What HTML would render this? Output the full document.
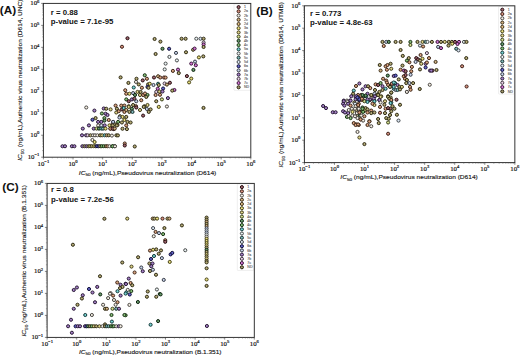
<!DOCTYPE html><html><head><meta charset="utf-8"><style>html,body{margin:0;padding:0;background:#fff;}svg{display:block}.s{font-family:"Liberation Sans",sans-serif}.t{font-family:"Liberation Serif",serif}</style></head><body>
<svg width="520" height="356" viewBox="0 0 520 356">
<rect width="520" height="356" fill="#fff"/>
<g><circle cx="154.60" cy="39.00" r="1.55" fill="#b6ac77" stroke="#2e2a14" stroke-width="1.0"/><circle cx="160.40" cy="41.60" r="1.55" fill="#b6ac77" stroke="#2e2a14" stroke-width="1.0"/><circle cx="181.60" cy="38.75" r="1.55" fill="#b6ac77" stroke="#2e2a14" stroke-width="1.0"/><circle cx="185.60" cy="38.75" r="1.55" fill="#b6ac77" stroke="#2e2a14" stroke-width="1.0"/><circle cx="196.30" cy="38.70" r="1.55" fill="#eef6f6" stroke="#464949" stroke-width="1.0"/><circle cx="200.50" cy="38.70" r="1.55" fill="#dfeaf6" stroke="#3f4449" stroke-width="1.0"/><circle cx="203.60" cy="38.70" r="1.55" fill="#b6ac77" stroke="#2e2a14" stroke-width="1.0"/><circle cx="203.60" cy="42.50" r="1.55" fill="#ead3ea" stroke="#443a44" stroke-width="1.0"/><circle cx="203.60" cy="44.50" r="1.55" fill="#d378d3" stroke="#3a143a" stroke-width="1.0"/><circle cx="203.60" cy="47.00" r="1.55" fill="#b6ac77" stroke="#2e2a14" stroke-width="1.0"/><circle cx="162.50" cy="48.75" r="1.55" fill="#699b6d" stroke="#0e2310" stroke-width="1.0"/><circle cx="169.10" cy="48.75" r="1.55" fill="#6666cc" stroke="#0d0d37" stroke-width="1.0"/><circle cx="155.60" cy="54.00" r="1.55" fill="#b6ac77" stroke="#2e2a14" stroke-width="1.0"/><circle cx="176.00" cy="52.90" r="1.55" fill="#c8d3ea" stroke="#353a44" stroke-width="1.0"/><circle cx="186.00" cy="52.25" r="1.55" fill="#b6ac77" stroke="#2e2a14" stroke-width="1.0"/><circle cx="193.10" cy="49.75" r="1.55" fill="#b6ac77" stroke="#2e2a14" stroke-width="1.0"/><circle cx="194.60" cy="48.60" r="1.55" fill="#d378d3" stroke="#3a143a" stroke-width="1.0"/><circle cx="169.40" cy="56.90" r="1.55" fill="#eef6f6" stroke="#464949" stroke-width="1.0"/><circle cx="176.90" cy="60.40" r="1.55" fill="#eef6f6" stroke="#464949" stroke-width="1.0"/><circle cx="165.60" cy="63.60" r="1.55" fill="#eef6f6" stroke="#464949" stroke-width="1.0"/><circle cx="164.70" cy="69.40" r="1.55" fill="#eef6f6" stroke="#464949" stroke-width="1.0"/><circle cx="198.90" cy="57.40" r="1.55" fill="#ebe080" stroke="#444017" stroke-width="1.0"/><circle cx="203.30" cy="56.40" r="1.55" fill="#b6ac77" stroke="#2e2a14" stroke-width="1.0"/><circle cx="195.00" cy="61.60" r="1.55" fill="#c8d3ea" stroke="#353a44" stroke-width="1.0"/><circle cx="191.25" cy="63.60" r="1.55" fill="#d378d3" stroke="#3a143a" stroke-width="1.0"/><circle cx="195.80" cy="65.25" r="1.55" fill="#d378d3" stroke="#3a143a" stroke-width="1.0"/><circle cx="172.90" cy="70.90" r="1.55" fill="#daa481" stroke="#3d2618" stroke-width="1.0"/><circle cx="178.00" cy="69.60" r="1.55" fill="#d378d3" stroke="#3a143a" stroke-width="1.0"/><circle cx="178.75" cy="73.10" r="1.55" fill="#b6ac77" stroke="#2e2a14" stroke-width="1.0"/><circle cx="193.40" cy="69.90" r="1.55" fill="#699b6d" stroke="#0e2310" stroke-width="1.0"/><circle cx="186.90" cy="76.10" r="1.55" fill="#9f666d" stroke="#250d10" stroke-width="1.0"/><circle cx="191.25" cy="78.60" r="1.55" fill="#ebe080" stroke="#444017" stroke-width="1.0"/><circle cx="189.10" cy="82.40" r="1.55" fill="#ebe080" stroke="#444017" stroke-width="1.0"/><circle cx="203.50" cy="107.90" r="1.55" fill="#b6ac77" stroke="#2e2a14" stroke-width="1.0"/><circle cx="127.50" cy="38.25" r="1.55" fill="#9f666d" stroke="#250d10" stroke-width="1.0"/><circle cx="122.00" cy="46.75" r="1.55" fill="#d79380" stroke="#3c2018" stroke-width="1.0"/><circle cx="120.60" cy="77.40" r="1.55" fill="#b6ac77" stroke="#2e2a14" stroke-width="1.0"/><circle cx="144.75" cy="75.25" r="1.55" fill="#85be78" stroke="#1a3214" stroke-width="1.0"/><circle cx="136.50" cy="78.75" r="1.55" fill="#b6ac77" stroke="#2e2a14" stroke-width="1.0"/><circle cx="142.75" cy="80.40" r="1.55" fill="#9f666d" stroke="#250d10" stroke-width="1.0"/><circle cx="146.90" cy="78.75" r="1.55" fill="#daa481" stroke="#3d2618" stroke-width="1.0"/><circle cx="154.00" cy="77.50" r="1.55" fill="#9f666d" stroke="#250d10" stroke-width="1.0"/><circle cx="158.10" cy="76.25" r="1.55" fill="#d4b382" stroke="#3a2d19" stroke-width="1.0"/><circle cx="160.25" cy="77.50" r="1.55" fill="#daa481" stroke="#3d2618" stroke-width="1.0"/><circle cx="164.00" cy="77.50" r="1.55" fill="#d79380" stroke="#3c2018" stroke-width="1.0"/><circle cx="165.60" cy="77.60" r="1.55" fill="#daa481" stroke="#3d2618" stroke-width="1.0"/><circle cx="128.40" cy="82.90" r="1.55" fill="#b6ac77" stroke="#2e2a14" stroke-width="1.0"/><circle cx="136.00" cy="81.90" r="1.55" fill="#f6f1e6" stroke="#494642" stroke-width="1.0"/><circle cx="138.75" cy="84.40" r="1.55" fill="#b6ac77" stroke="#2e2a14" stroke-width="1.0"/><circle cx="148.10" cy="84.40" r="1.55" fill="#b6ac77" stroke="#2e2a14" stroke-width="1.0"/><circle cx="149.75" cy="83.75" r="1.55" fill="#ebe080" stroke="#444017" stroke-width="1.0"/><circle cx="153.50" cy="85.00" r="1.55" fill="#c8d3ea" stroke="#353a44" stroke-width="1.0"/><circle cx="158.10" cy="83.75" r="1.55" fill="#78d2d2" stroke="#143a3a" stroke-width="1.0"/><circle cx="158.75" cy="85.00" r="1.55" fill="#b6ac77" stroke="#2e2a14" stroke-width="1.0"/><circle cx="164.60" cy="83.50" r="1.55" fill="#ead3ea" stroke="#443a44" stroke-width="1.0"/><circle cx="166.90" cy="84.60" r="1.55" fill="#d4b382" stroke="#3a2d19" stroke-width="1.0"/><circle cx="169.90" cy="82.75" r="1.55" fill="#9f666d" stroke="#250d10" stroke-width="1.0"/><circle cx="133.75" cy="87.50" r="1.55" fill="#78d2d2" stroke="#143a3a" stroke-width="1.0"/><circle cx="141.90" cy="87.75" r="1.55" fill="#daa481" stroke="#3d2618" stroke-width="1.0"/><circle cx="147.50" cy="86.90" r="1.55" fill="#6666cc" stroke="#0d0d37" stroke-width="1.0"/><circle cx="148.50" cy="87.80" r="1.55" fill="#b6ac77" stroke="#2e2a14" stroke-width="1.0"/><circle cx="157.75" cy="88.75" r="1.55" fill="#d378d3" stroke="#3a143a" stroke-width="1.0"/><circle cx="163.10" cy="88.50" r="1.55" fill="#6666cc" stroke="#0d0d37" stroke-width="1.0"/><circle cx="174.40" cy="90.00" r="1.55" fill="#d378d3" stroke="#3a143a" stroke-width="1.0"/><circle cx="172.25" cy="90.60" r="1.55" fill="#b6ac77" stroke="#2e2a14" stroke-width="1.0"/><circle cx="125.25" cy="90.25" r="1.55" fill="#daa481" stroke="#3d2618" stroke-width="1.0"/><circle cx="126.25" cy="93.75" r="1.55" fill="#daa481" stroke="#3d2618" stroke-width="1.0"/><circle cx="129.40" cy="93.75" r="1.55" fill="#ebe080" stroke="#444017" stroke-width="1.0"/><circle cx="133.10" cy="93.10" r="1.55" fill="#c8d3ea" stroke="#353a44" stroke-width="1.0"/><circle cx="135.00" cy="95.00" r="1.55" fill="#699b6d" stroke="#0e2310" stroke-width="1.0"/><circle cx="137.50" cy="91.90" r="1.55" fill="#e1d68a" stroke="#403b1c" stroke-width="1.0"/><circle cx="140.60" cy="91.90" r="1.55" fill="#b6ac77" stroke="#2e2a14" stroke-width="1.0"/><circle cx="140.00" cy="95.00" r="1.55" fill="#e1d68a" stroke="#403b1c" stroke-width="1.0"/><circle cx="143.10" cy="95.00" r="1.55" fill="#daa481" stroke="#3d2618" stroke-width="1.0"/><circle cx="145.00" cy="93.50" r="1.55" fill="#daa481" stroke="#3d2618" stroke-width="1.0"/><circle cx="147.50" cy="95.00" r="1.55" fill="#85be78" stroke="#1a3214" stroke-width="1.0"/><circle cx="146.25" cy="96.90" r="1.55" fill="#b6ac77" stroke="#2e2a14" stroke-width="1.0"/><circle cx="156.25" cy="91.90" r="1.55" fill="#ead3ea" stroke="#443a44" stroke-width="1.0"/><circle cx="159.40" cy="91.60" r="1.55" fill="#e1d68a" stroke="#403b1c" stroke-width="1.0"/><circle cx="162.50" cy="91.50" r="1.55" fill="#a682c8" stroke="#281935" stroke-width="1.0"/><circle cx="155.60" cy="95.00" r="1.55" fill="#daa481" stroke="#3d2618" stroke-width="1.0"/><circle cx="160.00" cy="94.75" r="1.55" fill="#daa481" stroke="#3d2618" stroke-width="1.0"/><circle cx="126.25" cy="99.40" r="1.55" fill="#85be78" stroke="#1a3214" stroke-width="1.0"/><circle cx="128.75" cy="101.25" r="1.55" fill="#9f666d" stroke="#250d10" stroke-width="1.0"/><circle cx="131.90" cy="99.40" r="1.55" fill="#a682c8" stroke="#281935" stroke-width="1.0"/><circle cx="134.40" cy="98.75" r="1.55" fill="#9f666d" stroke="#250d10" stroke-width="1.0"/><circle cx="136.25" cy="101.25" r="1.55" fill="#c8d3ea" stroke="#353a44" stroke-width="1.0"/><circle cx="141.25" cy="100.25" r="1.55" fill="#daa481" stroke="#3d2618" stroke-width="1.0"/><circle cx="156.25" cy="101.25" r="1.55" fill="#b6ac77" stroke="#2e2a14" stroke-width="1.0"/><circle cx="161.90" cy="99.40" r="1.55" fill="#d3de8e" stroke="#3a3f1d" stroke-width="1.0"/><circle cx="167.90" cy="98.10" r="1.55" fill="#a682c8" stroke="#281935" stroke-width="1.0"/><circle cx="115.60" cy="105.60" r="1.55" fill="#daa481" stroke="#3d2618" stroke-width="1.0"/><circle cx="121.25" cy="105.60" r="1.55" fill="#daa481" stroke="#3d2618" stroke-width="1.0"/><circle cx="124.40" cy="105.60" r="1.55" fill="#daa481" stroke="#3d2618" stroke-width="1.0"/><circle cx="128.75" cy="106.25" r="1.55" fill="#b6ac77" stroke="#2e2a14" stroke-width="1.0"/><circle cx="133.10" cy="105.00" r="1.55" fill="#b6ac77" stroke="#2e2a14" stroke-width="1.0"/><circle cx="136.00" cy="106.25" r="1.55" fill="#daa481" stroke="#3d2618" stroke-width="1.0"/><circle cx="144.40" cy="106.25" r="1.55" fill="#b6ac77" stroke="#2e2a14" stroke-width="1.0"/><circle cx="147.50" cy="105.00" r="1.55" fill="#e1d68a" stroke="#403b1c" stroke-width="1.0"/><circle cx="158.75" cy="106.90" r="1.55" fill="#ebe080" stroke="#444017" stroke-width="1.0"/><circle cx="166.90" cy="106.50" r="1.55" fill="#f6f1e6" stroke="#494642" stroke-width="1.0"/><circle cx="110.60" cy="109.40" r="1.55" fill="#e1d68a" stroke="#403b1c" stroke-width="1.0"/><circle cx="116.90" cy="108.75" r="1.55" fill="#b6ac77" stroke="#2e2a14" stroke-width="1.0"/><circle cx="116.25" cy="112.50" r="1.55" fill="#e1d68a" stroke="#403b1c" stroke-width="1.0"/><circle cx="118.75" cy="111.25" r="1.55" fill="#daa481" stroke="#3d2618" stroke-width="1.0"/><circle cx="121.90" cy="109.40" r="1.55" fill="#9f666d" stroke="#250d10" stroke-width="1.0"/><circle cx="123.75" cy="108.10" r="1.55" fill="#78d2d2" stroke="#143a3a" stroke-width="1.0"/><circle cx="124.40" cy="111.90" r="1.55" fill="#daa481" stroke="#3d2618" stroke-width="1.0"/><circle cx="126.25" cy="110.00" r="1.55" fill="#d4b382" stroke="#3a2d19" stroke-width="1.0"/><circle cx="128.75" cy="106.90" r="1.55" fill="#e1d68a" stroke="#403b1c" stroke-width="1.0"/><circle cx="129.40" cy="111.90" r="1.55" fill="#b6ac77" stroke="#2e2a14" stroke-width="1.0"/><circle cx="131.90" cy="108.75" r="1.55" fill="#699b6d" stroke="#0e2310" stroke-width="1.0"/><circle cx="132.50" cy="111.90" r="1.55" fill="#80b9b9" stroke="#182f2f" stroke-width="1.0"/><circle cx="136.25" cy="107.50" r="1.55" fill="#9f666d" stroke="#250d10" stroke-width="1.0"/><circle cx="140.00" cy="110.00" r="1.55" fill="#e1d68a" stroke="#403b1c" stroke-width="1.0"/><circle cx="143.75" cy="106.90" r="1.55" fill="#b6ac77" stroke="#2e2a14" stroke-width="1.0"/><circle cx="146.90" cy="109.00" r="1.55" fill="#c8d3ea" stroke="#353a44" stroke-width="1.0"/><circle cx="150.60" cy="109.40" r="1.55" fill="#b6ac77" stroke="#2e2a14" stroke-width="1.0"/><circle cx="148.75" cy="111.90" r="1.55" fill="#b6ac77" stroke="#2e2a14" stroke-width="1.0"/><circle cx="143.10" cy="115.60" r="1.55" fill="#9f666d" stroke="#250d10" stroke-width="1.0"/><circle cx="120.00" cy="116.25" r="1.55" fill="#b6ac77" stroke="#2e2a14" stroke-width="1.0"/><circle cx="122.50" cy="116.90" r="1.55" fill="#ebe080" stroke="#444017" stroke-width="1.0"/><circle cx="126.25" cy="116.90" r="1.55" fill="#b6ac77" stroke="#2e2a14" stroke-width="1.0"/><circle cx="119.40" cy="117.50" r="1.55" fill="#c8d3ea" stroke="#353a44" stroke-width="1.0"/><circle cx="124.40" cy="120.00" r="1.55" fill="#ebe080" stroke="#444017" stroke-width="1.0"/><circle cx="113.10" cy="121.90" r="1.55" fill="#c8d3ea" stroke="#353a44" stroke-width="1.0"/><circle cx="118.10" cy="121.90" r="1.55" fill="#85be78" stroke="#1a3214" stroke-width="1.0"/><circle cx="121.90" cy="122.50" r="1.55" fill="#b6ac77" stroke="#2e2a14" stroke-width="1.0"/><circle cx="127.50" cy="121.90" r="1.55" fill="#b6ac77" stroke="#2e2a14" stroke-width="1.0"/><circle cx="130.60" cy="122.50" r="1.55" fill="#b6ac77" stroke="#2e2a14" stroke-width="1.0"/><circle cx="111.90" cy="125.00" r="1.55" fill="#daa481" stroke="#3d2618" stroke-width="1.0"/><circle cx="115.00" cy="124.40" r="1.55" fill="#b6ac77" stroke="#2e2a14" stroke-width="1.0"/><circle cx="117.50" cy="125.00" r="1.55" fill="#d4b382" stroke="#3a2d19" stroke-width="1.0"/><circle cx="126.25" cy="125.40" r="1.55" fill="#daa481" stroke="#3d2618" stroke-width="1.0"/><circle cx="110.60" cy="128.75" r="1.55" fill="#daa481" stroke="#3d2618" stroke-width="1.0"/><circle cx="113.75" cy="129.10" r="1.55" fill="#9f666d" stroke="#250d10" stroke-width="1.0"/><circle cx="122.50" cy="128.75" r="1.55" fill="#b6ac77" stroke="#2e2a14" stroke-width="1.0"/><circle cx="126.90" cy="129.10" r="1.55" fill="#b6ac77" stroke="#2e2a14" stroke-width="1.0"/><circle cx="124.75" cy="143.50" r="1.55" fill="#daa481" stroke="#3d2618" stroke-width="1.0"/><circle cx="124.75" cy="145.50" r="1.55" fill="#9f666d" stroke="#250d10" stroke-width="1.0"/><circle cx="134.75" cy="146.50" r="1.55" fill="#b6ac77" stroke="#2e2a14" stroke-width="1.0"/><circle cx="86.25" cy="107.50" r="1.55" fill="#f6f1e6" stroke="#494642" stroke-width="1.0"/><circle cx="94.40" cy="110.60" r="1.55" fill="#a682c8" stroke="#281935" stroke-width="1.0"/><circle cx="103.75" cy="108.50" r="1.55" fill="#a682c8" stroke="#281935" stroke-width="1.0"/><circle cx="106.25" cy="108.75" r="1.55" fill="#b6ac77" stroke="#2e2a14" stroke-width="1.0"/><circle cx="101.90" cy="113.50" r="1.55" fill="#85be78" stroke="#1a3214" stroke-width="1.0"/><circle cx="105.60" cy="113.75" r="1.55" fill="#a682c8" stroke="#281935" stroke-width="1.0"/><circle cx="107.50" cy="115.00" r="1.55" fill="#a682c8" stroke="#281935" stroke-width="1.0"/><circle cx="92.50" cy="119.75" r="1.55" fill="#6666cc" stroke="#0d0d37" stroke-width="1.0"/><circle cx="95.60" cy="118.10" r="1.55" fill="#b6ac77" stroke="#2e2a14" stroke-width="1.0"/><circle cx="104.40" cy="118.10" r="1.55" fill="#85be78" stroke="#1a3214" stroke-width="1.0"/><circle cx="108.75" cy="120.00" r="1.55" fill="#daa481" stroke="#3d2618" stroke-width="1.0"/><circle cx="98.10" cy="121.90" r="1.55" fill="#a682c8" stroke="#281935" stroke-width="1.0"/><circle cx="101.25" cy="121.90" r="1.55" fill="#a682c8" stroke="#281935" stroke-width="1.0"/><circle cx="104.40" cy="120.60" r="1.55" fill="#699b6d" stroke="#0e2310" stroke-width="1.0"/><circle cx="113.10" cy="121.90" r="1.55" fill="#c8d3ea" stroke="#353a44" stroke-width="1.0"/><circle cx="88.90" cy="125.40" r="1.55" fill="#a682c8" stroke="#281935" stroke-width="1.0"/><circle cx="98.20" cy="125.40" r="1.55" fill="#f6f1e6" stroke="#494642" stroke-width="1.0"/><circle cx="101.40" cy="125.40" r="1.55" fill="#dfeaf6" stroke="#3f4449" stroke-width="1.0"/><circle cx="104.70" cy="125.40" r="1.55" fill="#a682c8" stroke="#281935" stroke-width="1.0"/><circle cx="109.50" cy="125.40" r="1.55" fill="#ebe080" stroke="#444017" stroke-width="1.0"/><circle cx="112.70" cy="125.40" r="1.55" fill="#b6ac77" stroke="#2e2a14" stroke-width="1.0"/><circle cx="116.80" cy="125.40" r="1.55" fill="#b6ac77" stroke="#2e2a14" stroke-width="1.0"/><circle cx="82.80" cy="128.60" r="1.55" fill="#a682c8" stroke="#281935" stroke-width="1.0"/><circle cx="93.75" cy="128.60" r="1.55" fill="#a682c8" stroke="#281935" stroke-width="1.0"/><circle cx="96.60" cy="128.60" r="1.55" fill="#d3de8e" stroke="#3a3f1d" stroke-width="1.0"/><circle cx="99.00" cy="128.60" r="1.55" fill="#699b6d" stroke="#0e2310" stroke-width="1.0"/><circle cx="101.40" cy="128.60" r="1.55" fill="#78d2d2" stroke="#143a3a" stroke-width="1.0"/><circle cx="103.00" cy="128.60" r="1.55" fill="#80b9b9" stroke="#182f2f" stroke-width="1.0"/><circle cx="105.50" cy="128.60" r="1.55" fill="#ebe080" stroke="#444017" stroke-width="1.0"/><circle cx="110.30" cy="128.60" r="1.55" fill="#daa481" stroke="#3d2618" stroke-width="1.0"/><circle cx="112.70" cy="128.60" r="1.55" fill="#9f666d" stroke="#250d10" stroke-width="1.0"/><circle cx="114.75" cy="128.60" r="1.55" fill="#d4b382" stroke="#3a2d19" stroke-width="1.0"/><circle cx="82.00" cy="135.30" r="1.55" fill="#a682c8" stroke="#281935" stroke-width="1.0"/><circle cx="86.10" cy="135.30" r="1.55" fill="#a682c8" stroke="#281935" stroke-width="1.0"/><circle cx="87.70" cy="135.30" r="1.55" fill="#ead3ea" stroke="#443a44" stroke-width="1.0"/><circle cx="90.50" cy="135.30" r="1.55" fill="#b6ac77" stroke="#2e2a14" stroke-width="1.0"/><circle cx="93.00" cy="135.30" r="1.55" fill="#f6f1e6" stroke="#494642" stroke-width="1.0"/><circle cx="95.00" cy="135.30" r="1.55" fill="#f6f1e6" stroke="#494642" stroke-width="1.0"/><circle cx="97.40" cy="135.30" r="1.55" fill="#f6f1e6" stroke="#494642" stroke-width="1.0"/><circle cx="100.20" cy="135.30" r="1.55" fill="#b6ac77" stroke="#2e2a14" stroke-width="1.0"/><circle cx="102.20" cy="135.30" r="1.55" fill="#e1d68a" stroke="#403b1c" stroke-width="1.0"/><circle cx="104.70" cy="135.30" r="1.55" fill="#78d2d2" stroke="#143a3a" stroke-width="1.0"/><circle cx="106.70" cy="135.30" r="1.55" fill="#d4b382" stroke="#3a2d19" stroke-width="1.0"/><circle cx="108.70" cy="135.30" r="1.55" fill="#b6ac77" stroke="#2e2a14" stroke-width="1.0"/><circle cx="111.90" cy="135.60" r="1.55" fill="#f6f1e6" stroke="#494642" stroke-width="1.0"/><circle cx="116.40" cy="135.30" r="1.55" fill="#b6ac77" stroke="#2e2a14" stroke-width="1.0"/><circle cx="117.90" cy="135.40" r="1.55" fill="#b6ac77" stroke="#2e2a14" stroke-width="1.0"/><circle cx="92.40" cy="140.00" r="1.55" fill="#f6f1e6" stroke="#494642" stroke-width="1.0"/><circle cx="94.60" cy="142.00" r="1.55" fill="#ebe080" stroke="#444017" stroke-width="1.0"/><circle cx="62.50" cy="146.25" r="1.55" fill="#a682c8" stroke="#281935" stroke-width="1.0"/><circle cx="65.00" cy="146.25" r="1.55" fill="#a682c8" stroke="#281935" stroke-width="1.0"/><circle cx="71.90" cy="146.25" r="1.55" fill="#a682c8" stroke="#281935" stroke-width="1.0"/><circle cx="74.40" cy="146.25" r="1.55" fill="#a682c8" stroke="#281935" stroke-width="1.0"/><circle cx="82.40" cy="146.20" r="1.55" fill="#a682c8" stroke="#281935" stroke-width="1.0"/><circle cx="84.50" cy="146.20" r="1.55" fill="#b6ac77" stroke="#2e2a14" stroke-width="1.0"/><circle cx="86.50" cy="146.20" r="1.55" fill="#a682c8" stroke="#281935" stroke-width="1.0"/><circle cx="88.50" cy="146.20" r="1.55" fill="#b6ac77" stroke="#2e2a14" stroke-width="1.0"/><circle cx="90.10" cy="146.20" r="1.55" fill="#ebe080" stroke="#444017" stroke-width="1.0"/><circle cx="91.70" cy="146.20" r="1.55" fill="#b6ac77" stroke="#2e2a14" stroke-width="1.0"/><circle cx="93.75" cy="146.20" r="1.55" fill="#ebe080" stroke="#444017" stroke-width="1.0"/><circle cx="95.40" cy="146.20" r="1.55" fill="#b6ac77" stroke="#2e2a14" stroke-width="1.0"/><circle cx="97.00" cy="146.20" r="1.55" fill="#6666cc" stroke="#0d0d37" stroke-width="1.0"/><circle cx="98.60" cy="146.20" r="1.55" fill="#6666cc" stroke="#0d0d37" stroke-width="1.0"/><circle cx="100.20" cy="146.20" r="1.55" fill="#b6ac77" stroke="#2e2a14" stroke-width="1.0"/><circle cx="101.80" cy="146.20" r="1.55" fill="#85be78" stroke="#1a3214" stroke-width="1.0"/><circle cx="103.80" cy="146.20" r="1.55" fill="#85be78" stroke="#1a3214" stroke-width="1.0"/><circle cx="105.90" cy="146.20" r="1.55" fill="#b6ac77" stroke="#2e2a14" stroke-width="1.0"/><circle cx="107.50" cy="146.20" r="1.55" fill="#daa481" stroke="#3d2618" stroke-width="1.0"/><circle cx="109.50" cy="146.20" r="1.55" fill="#f6f1e6" stroke="#494642" stroke-width="1.0"/><circle cx="112.70" cy="146.20" r="1.55" fill="#699b6d" stroke="#0e2310" stroke-width="1.0"/><circle cx="114.75" cy="146.20" r="1.55" fill="#699b6d" stroke="#0e2310" stroke-width="1.0"/><circle cx="112.50" cy="146.25" r="1.55" fill="#85be78" stroke="#1a3214" stroke-width="1.0"/><circle cx="115.00" cy="146.25" r="1.55" fill="#f6f1e6" stroke="#494642" stroke-width="1.0"/><rect x="234.0" y="3.9" width="16.30000000000001" height="86.39999999999999" fill="#fff" fill-opacity="0.8" stroke="#ddd" stroke-width="0.5" rx="0.5"/><circle cx="238.6" cy="7.10" r="1.55" fill="#9f666d" stroke="#250d10" stroke-width="1.0"/><text class="s" x="244.00" y="8.20" font-size="3.6" fill="#555" stroke="#555" stroke-width="0.1">1</text><circle cx="238.6" cy="11.32" r="1.55" fill="#d79380" stroke="#3c2018" stroke-width="1.0"/><text class="s" x="244.00" y="12.42" font-size="3.6" fill="#555" stroke="#555" stroke-width="0.1">2a</text><circle cx="238.6" cy="15.54" r="1.55" fill="#f6f1e6" stroke="#494642" stroke-width="1.0"/><text class="s" x="244.00" y="16.64" font-size="3.6" fill="#555" stroke="#555" stroke-width="0.1">2b</text><circle cx="238.6" cy="19.76" r="1.55" fill="#d4b382" stroke="#3a2d19" stroke-width="1.0"/><text class="s" x="244.00" y="20.86" font-size="3.6" fill="#555" stroke="#555" stroke-width="0.1">2c</text><circle cx="238.6" cy="23.98" r="1.55" fill="#dfbc82" stroke="#3f3119" stroke-width="1.0"/><text class="s" x="244.00" y="25.08" font-size="3.6" fill="#555" stroke="#555" stroke-width="0.1">2d</text><circle cx="238.6" cy="28.20" r="1.55" fill="#ebe080" stroke="#444017" stroke-width="1.0"/><text class="s" x="244.00" y="29.30" font-size="3.6" fill="#555" stroke="#555" stroke-width="0.1">3a</text><circle cx="238.6" cy="32.42" r="1.55" fill="#e1d68a" stroke="#403b1c" stroke-width="1.0"/><text class="s" x="244.00" y="33.52" font-size="3.6" fill="#555" stroke="#555" stroke-width="0.1">3b</text><circle cx="238.6" cy="36.64" r="1.55" fill="#d3de8e" stroke="#3a3f1d" stroke-width="1.0"/><text class="s" x="244.00" y="37.74" font-size="3.6" fill="#555" stroke="#555" stroke-width="0.1">4a</text><circle cx="238.6" cy="40.86" r="1.55" fill="#699b6d" stroke="#0e2310" stroke-width="1.0"/><text class="s" x="244.00" y="41.96" font-size="3.6" fill="#555" stroke="#555" stroke-width="0.1">4b</text><circle cx="238.6" cy="45.08" r="1.55" fill="#85be78" stroke="#1a3214" stroke-width="1.0"/><text class="s" x="244.00" y="46.18" font-size="3.6" fill="#555" stroke="#555" stroke-width="0.1">4c</text><circle cx="238.6" cy="49.30" r="1.55" fill="#78d2d2" stroke="#143a3a" stroke-width="1.0"/><text class="s" x="244.00" y="50.40" font-size="3.6" fill="#555" stroke="#555" stroke-width="0.1">5a</text><circle cx="238.6" cy="53.52" r="1.55" fill="#eef6f6" stroke="#464949" stroke-width="1.0"/><text class="s" x="244.00" y="54.62" font-size="3.6" fill="#555" stroke="#555" stroke-width="0.1">5b</text><circle cx="238.6" cy="57.74" r="1.55" fill="#80b9b9" stroke="#182f2f" stroke-width="1.0"/><text class="s" x="244.00" y="58.84" font-size="3.6" fill="#555" stroke="#555" stroke-width="0.1">5c</text><circle cx="238.6" cy="61.96" r="1.55" fill="#dfeaf6" stroke="#3f4449" stroke-width="1.0"/><text class="s" x="244.00" y="63.06" font-size="3.6" fill="#555" stroke="#555" stroke-width="0.1">5d</text><circle cx="238.6" cy="66.18" r="1.55" fill="#6666cc" stroke="#0d0d37" stroke-width="1.0"/><text class="s" x="244.00" y="67.28" font-size="3.6" fill="#555" stroke="#555" stroke-width="0.1">6a</text><circle cx="238.6" cy="70.40" r="1.55" fill="#c8d3ea" stroke="#353a44" stroke-width="1.0"/><text class="s" x="244.00" y="71.50" font-size="3.6" fill="#555" stroke="#555" stroke-width="0.1">6b</text><circle cx="238.6" cy="74.62" r="1.55" fill="#a682c8" stroke="#281935" stroke-width="1.0"/><text class="s" x="244.00" y="75.72" font-size="3.6" fill="#555" stroke="#555" stroke-width="0.1">7a</text><circle cx="238.6" cy="78.84" r="1.55" fill="#ead3ea" stroke="#443a44" stroke-width="1.0"/><text class="s" x="244.00" y="79.94" font-size="3.6" fill="#555" stroke="#555" stroke-width="0.1">7b</text><circle cx="238.6" cy="83.06" r="1.55" fill="#d378d3" stroke="#3a143a" stroke-width="1.0"/><text class="s" x="244.00" y="84.16" font-size="3.6" fill="#555" stroke="#555" stroke-width="0.1">7c</text><circle cx="238.6" cy="87.28" r="1.55" fill="#a3996c" stroke="#26220f" stroke-width="1.0"/><text class="s" x="244.00" y="88.38" font-size="3.6" fill="#555" stroke="#555" stroke-width="0.1">ND</text><rect x="43.4" y="3.4" width="207.4" height="153.79999999999998" fill="none" stroke="#2a2a2a" stroke-width="0.95"/><line x1="43.40" y1="157.2" x2="43.40" y2="159.39999999999998" stroke="#333" stroke-width="0.6"/><line x1="41.199999999999996" y1="157.20" x2="43.4" y2="157.20" stroke="#333" stroke-width="0.6"/><line x1="52.32" y1="157.2" x2="52.32" y2="158.39999999999998" stroke="#555" stroke-width="0.45"/><line x1="42.199999999999996" y1="150.59" x2="43.4" y2="150.59" stroke="#555" stroke-width="0.45"/><line x1="57.54" y1="157.2" x2="57.54" y2="158.39999999999998" stroke="#555" stroke-width="0.45"/><line x1="42.199999999999996" y1="146.72" x2="43.4" y2="146.72" stroke="#555" stroke-width="0.45"/><line x1="61.24" y1="157.2" x2="61.24" y2="158.39999999999998" stroke="#555" stroke-width="0.45"/><line x1="42.199999999999996" y1="143.97" x2="43.4" y2="143.97" stroke="#555" stroke-width="0.45"/><line x1="64.11" y1="157.2" x2="64.11" y2="158.39999999999998" stroke="#555" stroke-width="0.45"/><line x1="42.199999999999996" y1="141.84" x2="43.4" y2="141.84" stroke="#555" stroke-width="0.45"/><line x1="66.46" y1="157.2" x2="66.46" y2="158.39999999999998" stroke="#555" stroke-width="0.45"/><line x1="42.199999999999996" y1="140.10" x2="43.4" y2="140.10" stroke="#555" stroke-width="0.45"/><line x1="68.44" y1="157.2" x2="68.44" y2="158.39999999999998" stroke="#555" stroke-width="0.45"/><line x1="42.199999999999996" y1="138.63" x2="43.4" y2="138.63" stroke="#555" stroke-width="0.45"/><line x1="70.16" y1="157.2" x2="70.16" y2="158.39999999999998" stroke="#555" stroke-width="0.45"/><line x1="42.199999999999996" y1="137.36" x2="43.4" y2="137.36" stroke="#555" stroke-width="0.45"/><line x1="71.67" y1="157.2" x2="71.67" y2="158.39999999999998" stroke="#555" stroke-width="0.45"/><line x1="42.199999999999996" y1="136.23" x2="43.4" y2="136.23" stroke="#555" stroke-width="0.45"/><text class="t" x="43.40" y="165.50" font-size="6.8" fill="#111" stroke="#111" stroke-width="0.18" text-anchor="middle">10<tspan font-size="4.6" dy="-2.8">−1</tspan></text><text class="t" x="39.40" y="159.20" font-size="6.8" fill="#111" stroke="#111" stroke-width="0.18" text-anchor="end">10<tspan font-size="4.6" dy="-2.8">−1</tspan></text><line x1="73.03" y1="157.2" x2="73.03" y2="159.39999999999998" stroke="#333" stroke-width="0.6"/><line x1="41.199999999999996" y1="135.23" x2="43.4" y2="135.23" stroke="#333" stroke-width="0.6"/><line x1="81.95" y1="157.2" x2="81.95" y2="158.39999999999998" stroke="#555" stroke-width="0.45"/><line x1="42.199999999999996" y1="128.61" x2="43.4" y2="128.61" stroke="#555" stroke-width="0.45"/><line x1="87.16" y1="157.2" x2="87.16" y2="158.39999999999998" stroke="#555" stroke-width="0.45"/><line x1="42.199999999999996" y1="124.75" x2="43.4" y2="124.75" stroke="#555" stroke-width="0.45"/><line x1="90.87" y1="157.2" x2="90.87" y2="158.39999999999998" stroke="#555" stroke-width="0.45"/><line x1="42.199999999999996" y1="122.00" x2="43.4" y2="122.00" stroke="#555" stroke-width="0.45"/><line x1="93.74" y1="157.2" x2="93.74" y2="158.39999999999998" stroke="#555" stroke-width="0.45"/><line x1="42.199999999999996" y1="119.87" x2="43.4" y2="119.87" stroke="#555" stroke-width="0.45"/><line x1="96.08" y1="157.2" x2="96.08" y2="158.39999999999998" stroke="#555" stroke-width="0.45"/><line x1="42.199999999999996" y1="118.13" x2="43.4" y2="118.13" stroke="#555" stroke-width="0.45"/><line x1="98.07" y1="157.2" x2="98.07" y2="158.39999999999998" stroke="#555" stroke-width="0.45"/><line x1="42.199999999999996" y1="116.66" x2="43.4" y2="116.66" stroke="#555" stroke-width="0.45"/><line x1="99.79" y1="157.2" x2="99.79" y2="158.39999999999998" stroke="#555" stroke-width="0.45"/><line x1="42.199999999999996" y1="115.39" x2="43.4" y2="115.39" stroke="#555" stroke-width="0.45"/><line x1="101.30" y1="157.2" x2="101.30" y2="158.39999999999998" stroke="#555" stroke-width="0.45"/><line x1="42.199999999999996" y1="114.26" x2="43.4" y2="114.26" stroke="#555" stroke-width="0.45"/><text class="t" x="73.03" y="165.50" font-size="6.8" fill="#111" stroke="#111" stroke-width="0.18" text-anchor="middle">10<tspan font-size="4.6" dy="-2.8">0</tspan></text><text class="t" x="39.40" y="137.23" font-size="6.8" fill="#111" stroke="#111" stroke-width="0.18" text-anchor="end">10<tspan font-size="4.6" dy="-2.8">0</tspan></text><line x1="102.66" y1="157.2" x2="102.66" y2="159.39999999999998" stroke="#333" stroke-width="0.6"/><line x1="41.199999999999996" y1="113.26" x2="43.4" y2="113.26" stroke="#333" stroke-width="0.6"/><line x1="111.58" y1="157.2" x2="111.58" y2="158.39999999999998" stroke="#555" stroke-width="0.45"/><line x1="42.199999999999996" y1="106.64" x2="43.4" y2="106.64" stroke="#555" stroke-width="0.45"/><line x1="116.79" y1="157.2" x2="116.79" y2="158.39999999999998" stroke="#555" stroke-width="0.45"/><line x1="42.199999999999996" y1="102.77" x2="43.4" y2="102.77" stroke="#555" stroke-width="0.45"/><line x1="120.50" y1="157.2" x2="120.50" y2="158.39999999999998" stroke="#555" stroke-width="0.45"/><line x1="42.199999999999996" y1="100.03" x2="43.4" y2="100.03" stroke="#555" stroke-width="0.45"/><line x1="123.37" y1="157.2" x2="123.37" y2="158.39999999999998" stroke="#555" stroke-width="0.45"/><line x1="42.199999999999996" y1="97.90" x2="43.4" y2="97.90" stroke="#555" stroke-width="0.45"/><line x1="125.71" y1="157.2" x2="125.71" y2="158.39999999999998" stroke="#555" stroke-width="0.45"/><line x1="42.199999999999996" y1="96.16" x2="43.4" y2="96.16" stroke="#555" stroke-width="0.45"/><line x1="127.70" y1="157.2" x2="127.70" y2="158.39999999999998" stroke="#555" stroke-width="0.45"/><line x1="42.199999999999996" y1="94.69" x2="43.4" y2="94.69" stroke="#555" stroke-width="0.45"/><line x1="129.41" y1="157.2" x2="129.41" y2="158.39999999999998" stroke="#555" stroke-width="0.45"/><line x1="42.199999999999996" y1="93.41" x2="43.4" y2="93.41" stroke="#555" stroke-width="0.45"/><line x1="130.93" y1="157.2" x2="130.93" y2="158.39999999999998" stroke="#555" stroke-width="0.45"/><line x1="42.199999999999996" y1="92.29" x2="43.4" y2="92.29" stroke="#555" stroke-width="0.45"/><text class="t" x="102.66" y="165.50" font-size="6.8" fill="#111" stroke="#111" stroke-width="0.18" text-anchor="middle">10<tspan font-size="4.6" dy="-2.8">1</tspan></text><text class="t" x="39.40" y="115.26" font-size="6.8" fill="#111" stroke="#111" stroke-width="0.18" text-anchor="end">10<tspan font-size="4.6" dy="-2.8">1</tspan></text><line x1="132.29" y1="157.2" x2="132.29" y2="159.39999999999998" stroke="#333" stroke-width="0.6"/><line x1="41.199999999999996" y1="91.29" x2="43.4" y2="91.29" stroke="#333" stroke-width="0.6"/><line x1="141.20" y1="157.2" x2="141.20" y2="158.39999999999998" stroke="#555" stroke-width="0.45"/><line x1="42.199999999999996" y1="84.67" x2="43.4" y2="84.67" stroke="#555" stroke-width="0.45"/><line x1="146.42" y1="157.2" x2="146.42" y2="158.39999999999998" stroke="#555" stroke-width="0.45"/><line x1="42.199999999999996" y1="80.80" x2="43.4" y2="80.80" stroke="#555" stroke-width="0.45"/><line x1="150.12" y1="157.2" x2="150.12" y2="158.39999999999998" stroke="#555" stroke-width="0.45"/><line x1="42.199999999999996" y1="78.06" x2="43.4" y2="78.06" stroke="#555" stroke-width="0.45"/><line x1="153.00" y1="157.2" x2="153.00" y2="158.39999999999998" stroke="#555" stroke-width="0.45"/><line x1="42.199999999999996" y1="75.93" x2="43.4" y2="75.93" stroke="#555" stroke-width="0.45"/><line x1="155.34" y1="157.2" x2="155.34" y2="158.39999999999998" stroke="#555" stroke-width="0.45"/><line x1="42.199999999999996" y1="74.19" x2="43.4" y2="74.19" stroke="#555" stroke-width="0.45"/><line x1="157.32" y1="157.2" x2="157.32" y2="158.39999999999998" stroke="#555" stroke-width="0.45"/><line x1="42.199999999999996" y1="72.72" x2="43.4" y2="72.72" stroke="#555" stroke-width="0.45"/><line x1="159.04" y1="157.2" x2="159.04" y2="158.39999999999998" stroke="#555" stroke-width="0.45"/><line x1="42.199999999999996" y1="71.44" x2="43.4" y2="71.44" stroke="#555" stroke-width="0.45"/><line x1="160.56" y1="157.2" x2="160.56" y2="158.39999999999998" stroke="#555" stroke-width="0.45"/><line x1="42.199999999999996" y1="70.32" x2="43.4" y2="70.32" stroke="#555" stroke-width="0.45"/><text class="t" x="132.29" y="165.50" font-size="6.8" fill="#111" stroke="#111" stroke-width="0.18" text-anchor="middle">10<tspan font-size="4.6" dy="-2.8">2</tspan></text><text class="t" x="39.40" y="93.29" font-size="6.8" fill="#111" stroke="#111" stroke-width="0.18" text-anchor="end">10<tspan font-size="4.6" dy="-2.8">2</tspan></text><line x1="161.91" y1="157.2" x2="161.91" y2="159.39999999999998" stroke="#333" stroke-width="0.6"/><line x1="41.199999999999996" y1="69.31" x2="43.4" y2="69.31" stroke="#333" stroke-width="0.6"/><line x1="170.83" y1="157.2" x2="170.83" y2="158.39999999999998" stroke="#555" stroke-width="0.45"/><line x1="42.199999999999996" y1="62.70" x2="43.4" y2="62.70" stroke="#555" stroke-width="0.45"/><line x1="176.05" y1="157.2" x2="176.05" y2="158.39999999999998" stroke="#555" stroke-width="0.45"/><line x1="42.199999999999996" y1="58.83" x2="43.4" y2="58.83" stroke="#555" stroke-width="0.45"/><line x1="179.75" y1="157.2" x2="179.75" y2="158.39999999999998" stroke="#555" stroke-width="0.45"/><line x1="42.199999999999996" y1="56.09" x2="43.4" y2="56.09" stroke="#555" stroke-width="0.45"/><line x1="182.62" y1="157.2" x2="182.62" y2="158.39999999999998" stroke="#555" stroke-width="0.45"/><line x1="42.199999999999996" y1="53.96" x2="43.4" y2="53.96" stroke="#555" stroke-width="0.45"/><line x1="184.97" y1="157.2" x2="184.97" y2="158.39999999999998" stroke="#555" stroke-width="0.45"/><line x1="42.199999999999996" y1="52.22" x2="43.4" y2="52.22" stroke="#555" stroke-width="0.45"/><line x1="186.95" y1="157.2" x2="186.95" y2="158.39999999999998" stroke="#555" stroke-width="0.45"/><line x1="42.199999999999996" y1="50.75" x2="43.4" y2="50.75" stroke="#555" stroke-width="0.45"/><line x1="188.67" y1="157.2" x2="188.67" y2="158.39999999999998" stroke="#555" stroke-width="0.45"/><line x1="42.199999999999996" y1="49.47" x2="43.4" y2="49.47" stroke="#555" stroke-width="0.45"/><line x1="190.19" y1="157.2" x2="190.19" y2="158.39999999999998" stroke="#555" stroke-width="0.45"/><line x1="42.199999999999996" y1="48.35" x2="43.4" y2="48.35" stroke="#555" stroke-width="0.45"/><text class="t" x="161.91" y="165.50" font-size="6.8" fill="#111" stroke="#111" stroke-width="0.18" text-anchor="middle">10<tspan font-size="4.6" dy="-2.8">3</tspan></text><text class="t" x="39.40" y="71.31" font-size="6.8" fill="#111" stroke="#111" stroke-width="0.18" text-anchor="end">10<tspan font-size="4.6" dy="-2.8">3</tspan></text><line x1="191.54" y1="157.2" x2="191.54" y2="159.39999999999998" stroke="#333" stroke-width="0.6"/><line x1="41.199999999999996" y1="47.34" x2="43.4" y2="47.34" stroke="#333" stroke-width="0.6"/><line x1="200.46" y1="157.2" x2="200.46" y2="158.39999999999998" stroke="#555" stroke-width="0.45"/><line x1="42.199999999999996" y1="40.73" x2="43.4" y2="40.73" stroke="#555" stroke-width="0.45"/><line x1="205.68" y1="157.2" x2="205.68" y2="158.39999999999998" stroke="#555" stroke-width="0.45"/><line x1="42.199999999999996" y1="36.86" x2="43.4" y2="36.86" stroke="#555" stroke-width="0.45"/><line x1="209.38" y1="157.2" x2="209.38" y2="158.39999999999998" stroke="#555" stroke-width="0.45"/><line x1="42.199999999999996" y1="34.11" x2="43.4" y2="34.11" stroke="#555" stroke-width="0.45"/><line x1="212.25" y1="157.2" x2="212.25" y2="158.39999999999998" stroke="#555" stroke-width="0.45"/><line x1="42.199999999999996" y1="31.99" x2="43.4" y2="31.99" stroke="#555" stroke-width="0.45"/><line x1="214.60" y1="157.2" x2="214.60" y2="158.39999999999998" stroke="#555" stroke-width="0.45"/><line x1="42.199999999999996" y1="30.25" x2="43.4" y2="30.25" stroke="#555" stroke-width="0.45"/><line x1="216.58" y1="157.2" x2="216.58" y2="158.39999999999998" stroke="#555" stroke-width="0.45"/><line x1="42.199999999999996" y1="28.77" x2="43.4" y2="28.77" stroke="#555" stroke-width="0.45"/><line x1="218.30" y1="157.2" x2="218.30" y2="158.39999999999998" stroke="#555" stroke-width="0.45"/><line x1="42.199999999999996" y1="27.50" x2="43.4" y2="27.50" stroke="#555" stroke-width="0.45"/><line x1="219.82" y1="157.2" x2="219.82" y2="158.39999999999998" stroke="#555" stroke-width="0.45"/><line x1="42.199999999999996" y1="26.38" x2="43.4" y2="26.38" stroke="#555" stroke-width="0.45"/><text class="t" x="191.54" y="165.50" font-size="6.8" fill="#111" stroke="#111" stroke-width="0.18" text-anchor="middle">10<tspan font-size="4.6" dy="-2.8">4</tspan></text><text class="t" x="39.40" y="49.34" font-size="6.8" fill="#111" stroke="#111" stroke-width="0.18" text-anchor="end">10<tspan font-size="4.6" dy="-2.8">4</tspan></text><line x1="221.17" y1="157.2" x2="221.17" y2="159.39999999999998" stroke="#333" stroke-width="0.6"/><line x1="41.199999999999996" y1="25.37" x2="43.4" y2="25.37" stroke="#333" stroke-width="0.6"/><line x1="230.09" y1="157.2" x2="230.09" y2="158.39999999999998" stroke="#555" stroke-width="0.45"/><line x1="42.199999999999996" y1="18.76" x2="43.4" y2="18.76" stroke="#555" stroke-width="0.45"/><line x1="235.31" y1="157.2" x2="235.31" y2="158.39999999999998" stroke="#555" stroke-width="0.45"/><line x1="42.199999999999996" y1="14.89" x2="43.4" y2="14.89" stroke="#555" stroke-width="0.45"/><line x1="239.01" y1="157.2" x2="239.01" y2="158.39999999999998" stroke="#555" stroke-width="0.45"/><line x1="42.199999999999996" y1="12.14" x2="43.4" y2="12.14" stroke="#555" stroke-width="0.45"/><line x1="241.88" y1="157.2" x2="241.88" y2="158.39999999999998" stroke="#555" stroke-width="0.45"/><line x1="42.199999999999996" y1="10.01" x2="43.4" y2="10.01" stroke="#555" stroke-width="0.45"/><line x1="244.23" y1="157.2" x2="244.23" y2="158.39999999999998" stroke="#555" stroke-width="0.45"/><line x1="42.199999999999996" y1="8.27" x2="43.4" y2="8.27" stroke="#555" stroke-width="0.45"/><line x1="246.21" y1="157.2" x2="246.21" y2="158.39999999999998" stroke="#555" stroke-width="0.45"/><line x1="42.199999999999996" y1="6.80" x2="43.4" y2="6.80" stroke="#555" stroke-width="0.45"/><line x1="247.93" y1="157.2" x2="247.93" y2="158.39999999999998" stroke="#555" stroke-width="0.45"/><line x1="42.199999999999996" y1="5.53" x2="43.4" y2="5.53" stroke="#555" stroke-width="0.45"/><line x1="249.44" y1="157.2" x2="249.44" y2="158.39999999999998" stroke="#555" stroke-width="0.45"/><line x1="42.199999999999996" y1="4.41" x2="43.4" y2="4.41" stroke="#555" stroke-width="0.45"/><text class="t" x="221.17" y="165.50" font-size="6.8" fill="#111" stroke="#111" stroke-width="0.18" text-anchor="middle">10<tspan font-size="4.6" dy="-2.8">5</tspan></text><text class="t" x="39.40" y="27.37" font-size="6.8" fill="#111" stroke="#111" stroke-width="0.18" text-anchor="end">10<tspan font-size="4.6" dy="-2.8">5</tspan></text><line x1="250.80" y1="157.2" x2="250.80" y2="159.39999999999998" stroke="#333" stroke-width="0.6"/><line x1="41.199999999999996" y1="3.40" x2="43.4" y2="3.40" stroke="#333" stroke-width="0.6"/><text class="t" x="250.80" y="165.50" font-size="6.8" fill="#111" stroke="#111" stroke-width="0.18" text-anchor="middle">10<tspan font-size="4.6" dy="-2.8">6</tspan></text><text class="t" x="39.40" y="5.40" font-size="6.8" fill="#111" stroke="#111" stroke-width="0.18" text-anchor="end">10<tspan font-size="4.6" dy="-2.8">6</tspan></text><text class="s" x="-0.3" y="13.7" font-size="11.8" font-weight="bold" fill="#111">(A)</text><text class="s" x="50.8" y="14.8" font-size="7.8" font-weight="bold" fill="#111">r = 0.88</text><text class="s" x="50.8" y="23.6" font-size="7.8" font-weight="bold" fill="#111">p-value = 7.1e-95</text><text class="s" x="78.8" y="174.5" font-size="6.0" fill="#1a1a1a" stroke="#1a1a1a" stroke-width="0.14" textLength="137.5" lengthAdjust="spacingAndGlyphs"><tspan font-style="italic">IC</tspan><tspan font-size="4.20" dy="1.6">50</tspan><tspan dy="-1.6"> (ng/mL),Pseudovirus neutralization (D614)</tspan></text><text class="s" transform="translate(22.4,160.8) rotate(-90)" x="0" y="0" font-size="6.0" fill="#1a1a1a" stroke="#1a1a1a" stroke-width="0.14" textLength="161.3" lengthAdjust="spacingAndGlyphs"><tspan font-style="italic">IC</tspan><tspan font-size="4.20" dy="1.6">50</tspan><tspan dy="-1.6"> (ng/mL),Authentic virus neutralization (D614, UNC)</tspan></text></g>
<g><circle cx="382.50" cy="41.90" r="1.55" fill="#b6ac77" stroke="#2e2a14" stroke-width="1.0"/><circle cx="386.25" cy="41.90" r="1.55" fill="#c8d3ea" stroke="#353a44" stroke-width="1.0"/><circle cx="388.75" cy="41.90" r="1.55" fill="#699b6d" stroke="#0e2310" stroke-width="1.0"/><circle cx="395.60" cy="41.90" r="1.55" fill="#b6ac77" stroke="#2e2a14" stroke-width="1.0"/><circle cx="400.60" cy="41.90" r="1.55" fill="#b6ac77" stroke="#2e2a14" stroke-width="1.0"/><circle cx="410.40" cy="41.90" r="1.55" fill="#85be78" stroke="#1a3214" stroke-width="1.0"/><circle cx="417.50" cy="41.90" r="1.55" fill="#b6ac77" stroke="#2e2a14" stroke-width="1.0"/><circle cx="422.50" cy="41.90" r="1.55" fill="#e1d68a" stroke="#403b1c" stroke-width="1.0"/><circle cx="425.60" cy="41.90" r="1.55" fill="#80b9b9" stroke="#182f2f" stroke-width="1.0"/><circle cx="427.50" cy="41.90" r="1.55" fill="#eef6f6" stroke="#464949" stroke-width="1.0"/><circle cx="431.90" cy="41.90" r="1.55" fill="#b6ac77" stroke="#2e2a14" stroke-width="1.0"/><circle cx="437.50" cy="41.90" r="1.55" fill="#d378d3" stroke="#3a143a" stroke-width="1.0"/><circle cx="441.00" cy="41.90" r="1.55" fill="#b6ac77" stroke="#2e2a14" stroke-width="1.0"/><circle cx="444.75" cy="41.90" r="1.55" fill="#e1d68a" stroke="#403b1c" stroke-width="1.0"/><circle cx="448.75" cy="41.90" r="1.55" fill="#b6ac77" stroke="#2e2a14" stroke-width="1.0"/><circle cx="451.90" cy="41.90" r="1.55" fill="#b6ac77" stroke="#2e2a14" stroke-width="1.0"/><circle cx="455.00" cy="41.90" r="1.55" fill="#9f666d" stroke="#250d10" stroke-width="1.0"/><circle cx="459.00" cy="41.90" r="1.55" fill="#d378d3" stroke="#3a143a" stroke-width="1.0"/><circle cx="464.00" cy="41.90" r="1.55" fill="#eef6f6" stroke="#464949" stroke-width="1.0"/><circle cx="466.50" cy="41.90" r="1.55" fill="#b6ac77" stroke="#2e2a14" stroke-width="1.0"/><circle cx="383.75" cy="46.00" r="1.55" fill="#daa481" stroke="#3d2618" stroke-width="1.0"/><circle cx="410.40" cy="45.00" r="1.55" fill="#d3de8e" stroke="#3a3f1d" stroke-width="1.0"/><circle cx="420.00" cy="45.60" r="1.55" fill="#dfeaf6" stroke="#3f4449" stroke-width="1.0"/><circle cx="423.10" cy="46.50" r="1.55" fill="#daa481" stroke="#3d2618" stroke-width="1.0"/><circle cx="438.10" cy="46.90" r="1.55" fill="#c8d3ea" stroke="#353a44" stroke-width="1.0"/><circle cx="441.00" cy="48.10" r="1.55" fill="#d378d3" stroke="#3a143a" stroke-width="1.0"/><circle cx="448.50" cy="45.60" r="1.55" fill="#b6ac77" stroke="#2e2a14" stroke-width="1.0"/><circle cx="452.25" cy="43.75" r="1.55" fill="#ebe080" stroke="#444017" stroke-width="1.0"/><circle cx="457.50" cy="44.00" r="1.55" fill="#d378d3" stroke="#3a143a" stroke-width="1.0"/><circle cx="456.25" cy="48.75" r="1.55" fill="#80b9b9" stroke="#182f2f" stroke-width="1.0"/><circle cx="458.50" cy="50.40" r="1.55" fill="#dfeaf6" stroke="#3f4449" stroke-width="1.0"/><circle cx="400.60" cy="50.00" r="1.55" fill="#b6ac77" stroke="#2e2a14" stroke-width="1.0"/><circle cx="402.75" cy="55.90" r="1.55" fill="#b6ac77" stroke="#2e2a14" stroke-width="1.0"/><circle cx="426.90" cy="53.10" r="1.55" fill="#ead3ea" stroke="#443a44" stroke-width="1.0"/><circle cx="408.75" cy="58.10" r="1.55" fill="#b6ac77" stroke="#2e2a14" stroke-width="1.0"/><circle cx="406.90" cy="60.60" r="1.55" fill="#85be78" stroke="#1a3214" stroke-width="1.0"/><circle cx="409.40" cy="62.25" r="1.55" fill="#daa481" stroke="#3d2618" stroke-width="1.0"/><circle cx="416.25" cy="58.10" r="1.55" fill="#9f666d" stroke="#250d10" stroke-width="1.0"/><circle cx="418.10" cy="59.40" r="1.55" fill="#9f666d" stroke="#250d10" stroke-width="1.0"/><circle cx="420.60" cy="55.00" r="1.55" fill="#daa481" stroke="#3d2618" stroke-width="1.0"/><circle cx="422.50" cy="58.75" r="1.55" fill="#ebe080" stroke="#444017" stroke-width="1.0"/><circle cx="420.00" cy="60.60" r="1.55" fill="#b6ac77" stroke="#2e2a14" stroke-width="1.0"/><circle cx="415.60" cy="61.90" r="1.55" fill="#c8d3ea" stroke="#353a44" stroke-width="1.0"/><circle cx="421.25" cy="63.75" r="1.55" fill="#e1d68a" stroke="#403b1c" stroke-width="1.0"/><circle cx="425.60" cy="63.75" r="1.55" fill="#a682c8" stroke="#281935" stroke-width="1.0"/><circle cx="426.90" cy="62.50" r="1.55" fill="#daa481" stroke="#3d2618" stroke-width="1.0"/><circle cx="425.60" cy="67.50" r="1.55" fill="#6666cc" stroke="#0d0d37" stroke-width="1.0"/><circle cx="429.00" cy="58.10" r="1.55" fill="#daa481" stroke="#3d2618" stroke-width="1.0"/><circle cx="435.60" cy="61.90" r="1.55" fill="#d4b382" stroke="#3a2d19" stroke-width="1.0"/><circle cx="466.25" cy="58.10" r="1.55" fill="#b6ac77" stroke="#2e2a14" stroke-width="1.0"/><circle cx="462.10" cy="66.25" r="1.55" fill="#d79380" stroke="#3c2018" stroke-width="1.0"/><circle cx="466.60" cy="86.50" r="1.55" fill="#d79380" stroke="#3c2018" stroke-width="1.0"/><circle cx="379.75" cy="65.00" r="1.55" fill="#b6ac77" stroke="#2e2a14" stroke-width="1.0"/><circle cx="385.60" cy="66.25" r="1.55" fill="#daa481" stroke="#3d2618" stroke-width="1.0"/><circle cx="387.50" cy="65.00" r="1.55" fill="#daa481" stroke="#3d2618" stroke-width="1.0"/><circle cx="390.60" cy="63.75" r="1.55" fill="#b6ac77" stroke="#2e2a14" stroke-width="1.0"/><circle cx="391.25" cy="68.75" r="1.55" fill="#e1d68a" stroke="#403b1c" stroke-width="1.0"/><circle cx="386.90" cy="69.75" r="1.55" fill="#daa481" stroke="#3d2618" stroke-width="1.0"/><circle cx="380.60" cy="70.60" r="1.55" fill="#d4b382" stroke="#3a2d19" stroke-width="1.0"/><circle cx="402.50" cy="65.60" r="1.55" fill="#b6ac77" stroke="#2e2a14" stroke-width="1.0"/><circle cx="411.90" cy="66.90" r="1.55" fill="#daa481" stroke="#3d2618" stroke-width="1.0"/><circle cx="400.60" cy="69.75" r="1.55" fill="#daa481" stroke="#3d2618" stroke-width="1.0"/><circle cx="404.00" cy="70.60" r="1.55" fill="#d378d3" stroke="#3a143a" stroke-width="1.0"/><circle cx="405.60" cy="71.25" r="1.55" fill="#9f666d" stroke="#250d10" stroke-width="1.0"/><circle cx="411.25" cy="71.25" r="1.55" fill="#daa481" stroke="#3d2618" stroke-width="1.0"/><circle cx="420.00" cy="69.40" r="1.55" fill="#b6ac77" stroke="#2e2a14" stroke-width="1.0"/><circle cx="430.00" cy="70.60" r="1.55" fill="#a682c8" stroke="#281935" stroke-width="1.0"/><circle cx="432.50" cy="70.60" r="1.55" fill="#9f666d" stroke="#250d10" stroke-width="1.0"/><circle cx="436.50" cy="70.00" r="1.55" fill="#b6ac77" stroke="#2e2a14" stroke-width="1.0"/><circle cx="431.25" cy="70.60" r="1.55" fill="#a682c8" stroke="#281935" stroke-width="1.0"/><circle cx="387.75" cy="75.60" r="1.55" fill="#699b6d" stroke="#0e2310" stroke-width="1.0"/><circle cx="393.75" cy="76.00" r="1.55" fill="#a682c8" stroke="#281935" stroke-width="1.0"/><circle cx="395.60" cy="75.60" r="1.55" fill="#6666cc" stroke="#0d0d37" stroke-width="1.0"/><circle cx="383.10" cy="78.75" r="1.55" fill="#daa481" stroke="#3d2618" stroke-width="1.0"/><circle cx="386.25" cy="80.60" r="1.55" fill="#daa481" stroke="#3d2618" stroke-width="1.0"/><circle cx="386.90" cy="82.50" r="1.55" fill="#daa481" stroke="#3d2618" stroke-width="1.0"/><circle cx="410.60" cy="74.75" r="1.55" fill="#c8d3ea" stroke="#353a44" stroke-width="1.0"/><circle cx="403.75" cy="76.25" r="1.55" fill="#daa481" stroke="#3d2618" stroke-width="1.0"/><circle cx="405.60" cy="75.00" r="1.55" fill="#9f666d" stroke="#250d10" stroke-width="1.0"/><circle cx="405.00" cy="78.75" r="1.55" fill="#daa481" stroke="#3d2618" stroke-width="1.0"/><circle cx="398.75" cy="79.40" r="1.55" fill="#b6ac77" stroke="#2e2a14" stroke-width="1.0"/><circle cx="406.90" cy="80.00" r="1.55" fill="#b6ac77" stroke="#2e2a14" stroke-width="1.0"/><circle cx="406.25" cy="83.10" r="1.55" fill="#b6ac77" stroke="#2e2a14" stroke-width="1.0"/><circle cx="409.40" cy="83.10" r="1.55" fill="#c8d3ea" stroke="#353a44" stroke-width="1.0"/><circle cx="413.10" cy="83.10" r="1.55" fill="#b6ac77" stroke="#2e2a14" stroke-width="1.0"/><circle cx="410.00" cy="86.90" r="1.55" fill="#daa481" stroke="#3d2618" stroke-width="1.0"/><circle cx="410.60" cy="89.75" r="1.55" fill="#daa481" stroke="#3d2618" stroke-width="1.0"/><circle cx="406.90" cy="91.90" r="1.55" fill="#f6f1e6" stroke="#494642" stroke-width="1.0"/><circle cx="419.75" cy="89.00" r="1.55" fill="#b6ac77" stroke="#2e2a14" stroke-width="1.0"/><circle cx="429.75" cy="84.75" r="1.55" fill="#f6f1e6" stroke="#494642" stroke-width="1.0"/><circle cx="391.90" cy="83.75" r="1.55" fill="#9f666d" stroke="#250d10" stroke-width="1.0"/><circle cx="395.00" cy="83.10" r="1.55" fill="#78d2d2" stroke="#143a3a" stroke-width="1.0"/><circle cx="397.50" cy="85.00" r="1.55" fill="#a682c8" stroke="#281935" stroke-width="1.0"/><circle cx="399.40" cy="86.90" r="1.55" fill="#b6ac77" stroke="#2e2a14" stroke-width="1.0"/><circle cx="401.90" cy="86.90" r="1.55" fill="#e1d68a" stroke="#403b1c" stroke-width="1.0"/><circle cx="393.75" cy="88.75" r="1.55" fill="#78d2d2" stroke="#143a3a" stroke-width="1.0"/><circle cx="395.60" cy="90.00" r="1.55" fill="#c8d3ea" stroke="#353a44" stroke-width="1.0"/><circle cx="397.50" cy="90.00" r="1.55" fill="#80b9b9" stroke="#182f2f" stroke-width="1.0"/><circle cx="400.00" cy="89.40" r="1.55" fill="#b6ac77" stroke="#2e2a14" stroke-width="1.0"/><circle cx="396.50" cy="99.75" r="1.55" fill="#9f666d" stroke="#250d10" stroke-width="1.0"/><circle cx="391.25" cy="100.00" r="1.55" fill="#daa481" stroke="#3d2618" stroke-width="1.0"/><circle cx="359.40" cy="83.50" r="1.55" fill="#a682c8" stroke="#281935" stroke-width="1.0"/><circle cx="356.00" cy="86.00" r="1.55" fill="#daa481" stroke="#3d2618" stroke-width="1.0"/><circle cx="365.60" cy="86.25" r="1.55" fill="#a682c8" stroke="#281935" stroke-width="1.0"/><circle cx="368.10" cy="86.25" r="1.55" fill="#b6ac77" stroke="#2e2a14" stroke-width="1.0"/><circle cx="370.25" cy="88.10" r="1.55" fill="#daa481" stroke="#3d2618" stroke-width="1.0"/><circle cx="362.50" cy="89.40" r="1.55" fill="#a682c8" stroke="#281935" stroke-width="1.0"/><circle cx="375.60" cy="84.40" r="1.55" fill="#daa481" stroke="#3d2618" stroke-width="1.0"/><circle cx="378.10" cy="85.00" r="1.55" fill="#9f666d" stroke="#250d10" stroke-width="1.0"/><circle cx="380.60" cy="83.10" r="1.55" fill="#85be78" stroke="#1a3214" stroke-width="1.0"/><circle cx="382.50" cy="86.25" r="1.55" fill="#a682c8" stroke="#281935" stroke-width="1.0"/><circle cx="385.60" cy="88.75" r="1.55" fill="#78d2d2" stroke="#143a3a" stroke-width="1.0"/><circle cx="388.10" cy="85.00" r="1.55" fill="#daa481" stroke="#3d2618" stroke-width="1.0"/><circle cx="390.00" cy="86.90" r="1.55" fill="#b6ac77" stroke="#2e2a14" stroke-width="1.0"/><circle cx="391.90" cy="83.75" r="1.55" fill="#d79380" stroke="#3c2018" stroke-width="1.0"/><circle cx="393.75" cy="82.50" r="1.55" fill="#78d2d2" stroke="#143a3a" stroke-width="1.0"/><circle cx="393.75" cy="86.90" r="1.55" fill="#78d2d2" stroke="#143a3a" stroke-width="1.0"/><circle cx="353.75" cy="90.60" r="1.55" fill="#78d2d2" stroke="#143a3a" stroke-width="1.0"/><circle cx="375.00" cy="90.00" r="1.55" fill="#b6ac77" stroke="#2e2a14" stroke-width="1.0"/><circle cx="379.40" cy="91.90" r="1.55" fill="#b6ac77" stroke="#2e2a14" stroke-width="1.0"/><circle cx="382.50" cy="90.00" r="1.55" fill="#b6ac77" stroke="#2e2a14" stroke-width="1.0"/><circle cx="391.25" cy="92.75" r="1.55" fill="#b6ac77" stroke="#2e2a14" stroke-width="1.0"/><circle cx="353.10" cy="93.75" r="1.55" fill="#b6ac77" stroke="#2e2a14" stroke-width="1.0"/><circle cx="351.25" cy="96.25" r="1.55" fill="#a682c8" stroke="#281935" stroke-width="1.0"/><circle cx="355.60" cy="96.90" r="1.55" fill="#a682c8" stroke="#281935" stroke-width="1.0"/><circle cx="358.10" cy="95.00" r="1.55" fill="#daa481" stroke="#3d2618" stroke-width="1.0"/><circle cx="361.25" cy="95.00" r="1.55" fill="#d4b382" stroke="#3a2d19" stroke-width="1.0"/><circle cx="363.75" cy="96.25" r="1.55" fill="#699b6d" stroke="#0e2310" stroke-width="1.0"/><circle cx="366.25" cy="96.25" r="1.55" fill="#78d2d2" stroke="#143a3a" stroke-width="1.0"/><circle cx="367.50" cy="93.75" r="1.55" fill="#a682c8" stroke="#281935" stroke-width="1.0"/><circle cx="371.25" cy="95.60" r="1.55" fill="#daa481" stroke="#3d2618" stroke-width="1.0"/><circle cx="374.40" cy="93.75" r="1.55" fill="#c8d3ea" stroke="#353a44" stroke-width="1.0"/><circle cx="375.00" cy="96.25" r="1.55" fill="#a682c8" stroke="#281935" stroke-width="1.0"/><circle cx="377.50" cy="94.40" r="1.55" fill="#b6ac77" stroke="#2e2a14" stroke-width="1.0"/><circle cx="381.25" cy="96.25" r="1.55" fill="#e1d68a" stroke="#403b1c" stroke-width="1.0"/><circle cx="388.10" cy="96.25" r="1.55" fill="#b6ac77" stroke="#2e2a14" stroke-width="1.0"/><circle cx="390.60" cy="97.50" r="1.55" fill="#b6ac77" stroke="#2e2a14" stroke-width="1.0"/><circle cx="343.75" cy="100.60" r="1.55" fill="#a682c8" stroke="#281935" stroke-width="1.0"/><circle cx="346.90" cy="100.60" r="1.55" fill="#f6f1e6" stroke="#494642" stroke-width="1.0"/><circle cx="350.00" cy="100.60" r="1.55" fill="#a682c8" stroke="#281935" stroke-width="1.0"/><circle cx="355.60" cy="99.40" r="1.55" fill="#a682c8" stroke="#281935" stroke-width="1.0"/><circle cx="358.75" cy="100.00" r="1.55" fill="#6666cc" stroke="#0d0d37" stroke-width="1.0"/><circle cx="363.10" cy="100.00" r="1.55" fill="#daa481" stroke="#3d2618" stroke-width="1.0"/><circle cx="367.50" cy="100.00" r="1.55" fill="#a682c8" stroke="#281935" stroke-width="1.0"/><circle cx="370.00" cy="100.00" r="1.55" fill="#b6ac77" stroke="#2e2a14" stroke-width="1.0"/><circle cx="374.40" cy="100.60" r="1.55" fill="#78d2d2" stroke="#143a3a" stroke-width="1.0"/><circle cx="379.40" cy="100.00" r="1.55" fill="#a682c8" stroke="#281935" stroke-width="1.0"/><circle cx="385.00" cy="101.25" r="1.55" fill="#e1d68a" stroke="#403b1c" stroke-width="1.0"/><circle cx="391.25" cy="102.50" r="1.55" fill="#78d2d2" stroke="#143a3a" stroke-width="1.0"/><circle cx="354.40" cy="102.50" r="1.55" fill="#b6ac77" stroke="#2e2a14" stroke-width="1.0"/><circle cx="356.25" cy="96.25" r="1.55" fill="#a682c8" stroke="#281935" stroke-width="1.0"/><circle cx="358.75" cy="97.50" r="1.55" fill="#6666cc" stroke="#0d0d37" stroke-width="1.0"/><circle cx="365.60" cy="95.60" r="1.55" fill="#699b6d" stroke="#0e2310" stroke-width="1.0"/><circle cx="371.25" cy="95.00" r="1.55" fill="#b6ac77" stroke="#2e2a14" stroke-width="1.0"/><circle cx="378.10" cy="95.00" r="1.55" fill="#b6ac77" stroke="#2e2a14" stroke-width="1.0"/><circle cx="380.60" cy="96.90" r="1.55" fill="#e1d68a" stroke="#403b1c" stroke-width="1.0"/><circle cx="370.00" cy="99.40" r="1.55" fill="#a682c8" stroke="#281935" stroke-width="1.0"/><circle cx="373.75" cy="98.75" r="1.55" fill="#a682c8" stroke="#281935" stroke-width="1.0"/><circle cx="374.40" cy="101.25" r="1.55" fill="#78d2d2" stroke="#143a3a" stroke-width="1.0"/><circle cx="379.40" cy="100.00" r="1.55" fill="#a682c8" stroke="#281935" stroke-width="1.0"/><circle cx="380.60" cy="102.50" r="1.55" fill="#f6f1e6" stroke="#494642" stroke-width="1.0"/><circle cx="367.50" cy="99.40" r="1.55" fill="#a682c8" stroke="#281935" stroke-width="1.0"/><circle cx="364.40" cy="101.25" r="1.55" fill="#d3de8e" stroke="#3a3f1d" stroke-width="1.0"/><circle cx="361.25" cy="100.00" r="1.55" fill="#daa481" stroke="#3d2618" stroke-width="1.0"/><circle cx="358.75" cy="99.40" r="1.55" fill="#80b9b9" stroke="#182f2f" stroke-width="1.0"/><circle cx="367.50" cy="101.90" r="1.55" fill="#78d2d2" stroke="#143a3a" stroke-width="1.0"/><circle cx="388.10" cy="96.90" r="1.55" fill="#b6ac77" stroke="#2e2a14" stroke-width="1.0"/><circle cx="389.40" cy="98.75" r="1.55" fill="#b6ac77" stroke="#2e2a14" stroke-width="1.0"/><circle cx="391.25" cy="100.00" r="1.55" fill="#daa481" stroke="#3d2618" stroke-width="1.0"/><circle cx="391.25" cy="92.50" r="1.55" fill="#b6ac77" stroke="#2e2a14" stroke-width="1.0"/><circle cx="390.60" cy="103.10" r="1.55" fill="#78d2d2" stroke="#143a3a" stroke-width="1.0"/><circle cx="400.00" cy="104.75" r="1.55" fill="#b6ac77" stroke="#2e2a14" stroke-width="1.0"/><circle cx="406.90" cy="91.90" r="1.55" fill="#f6f1e6" stroke="#494642" stroke-width="1.0"/><circle cx="384.40" cy="104.75" r="1.55" fill="#b6ac77" stroke="#2e2a14" stroke-width="1.0"/><circle cx="380.00" cy="106.90" r="1.55" fill="#daa481" stroke="#3d2618" stroke-width="1.0"/><circle cx="385.60" cy="108.75" r="1.55" fill="#daa481" stroke="#3d2618" stroke-width="1.0"/><circle cx="388.10" cy="108.10" r="1.55" fill="#9f666d" stroke="#250d10" stroke-width="1.0"/><circle cx="390.60" cy="108.75" r="1.55" fill="#9f666d" stroke="#250d10" stroke-width="1.0"/><circle cx="392.50" cy="106.25" r="1.55" fill="#b6ac77" stroke="#2e2a14" stroke-width="1.0"/><circle cx="394.40" cy="108.75" r="1.55" fill="#b6ac77" stroke="#2e2a14" stroke-width="1.0"/><circle cx="391.25" cy="111.25" r="1.55" fill="#b6ac77" stroke="#2e2a14" stroke-width="1.0"/><circle cx="374.40" cy="105.00" r="1.55" fill="#e1d68a" stroke="#403b1c" stroke-width="1.0"/><circle cx="372.50" cy="103.75" r="1.55" fill="#daa481" stroke="#3d2618" stroke-width="1.0"/><circle cx="358.75" cy="103.75" r="1.55" fill="#daa481" stroke="#3d2618" stroke-width="1.0"/><circle cx="356.25" cy="105.00" r="1.55" fill="#f6f1e6" stroke="#494642" stroke-width="1.0"/><circle cx="358.10" cy="106.25" r="1.55" fill="#daa481" stroke="#3d2618" stroke-width="1.0"/><circle cx="362.50" cy="107.50" r="1.55" fill="#699b6d" stroke="#0e2310" stroke-width="1.0"/><circle cx="365.60" cy="108.10" r="1.55" fill="#b6ac77" stroke="#2e2a14" stroke-width="1.0"/><circle cx="367.50" cy="109.40" r="1.55" fill="#b6ac77" stroke="#2e2a14" stroke-width="1.0"/><circle cx="371.25" cy="110.60" r="1.55" fill="#daa481" stroke="#3d2618" stroke-width="1.0"/><circle cx="364.40" cy="110.60" r="1.55" fill="#e1d68a" stroke="#403b1c" stroke-width="1.0"/><circle cx="356.25" cy="110.00" r="1.55" fill="#b6ac77" stroke="#2e2a14" stroke-width="1.0"/><circle cx="360.00" cy="111.90" r="1.55" fill="#daa481" stroke="#3d2618" stroke-width="1.0"/><circle cx="362.50" cy="111.25" r="1.55" fill="#b6ac77" stroke="#2e2a14" stroke-width="1.0"/><circle cx="367.50" cy="112.50" r="1.55" fill="#daa481" stroke="#3d2618" stroke-width="1.0"/><circle cx="371.25" cy="113.10" r="1.55" fill="#b6ac77" stroke="#2e2a14" stroke-width="1.0"/><circle cx="374.40" cy="112.50" r="1.55" fill="#b6ac77" stroke="#2e2a14" stroke-width="1.0"/><circle cx="357.50" cy="115.00" r="1.55" fill="#b6ac77" stroke="#2e2a14" stroke-width="1.0"/><circle cx="360.00" cy="115.60" r="1.55" fill="#699b6d" stroke="#0e2310" stroke-width="1.0"/><circle cx="364.40" cy="116.25" r="1.55" fill="#daa481" stroke="#3d2618" stroke-width="1.0"/><circle cx="380.00" cy="112.75" r="1.55" fill="#d79380" stroke="#3c2018" stroke-width="1.0"/><circle cx="385.00" cy="113.10" r="1.55" fill="#b6ac77" stroke="#2e2a14" stroke-width="1.0"/><circle cx="390.00" cy="115.00" r="1.55" fill="#b6ac77" stroke="#2e2a14" stroke-width="1.0"/><circle cx="396.90" cy="114.75" r="1.55" fill="#b6ac77" stroke="#2e2a14" stroke-width="1.0"/><circle cx="357.50" cy="118.10" r="1.55" fill="#f6f1e6" stroke="#494642" stroke-width="1.0"/><circle cx="360.60" cy="119.40" r="1.55" fill="#daa481" stroke="#3d2618" stroke-width="1.0"/><circle cx="363.10" cy="120.60" r="1.55" fill="#f6f1e6" stroke="#494642" stroke-width="1.0"/><circle cx="378.10" cy="119.00" r="1.55" fill="#b6ac77" stroke="#2e2a14" stroke-width="1.0"/><circle cx="378.75" cy="123.10" r="1.55" fill="#b6ac77" stroke="#2e2a14" stroke-width="1.0"/><circle cx="386.25" cy="118.10" r="1.55" fill="#b6ac77" stroke="#2e2a14" stroke-width="1.0"/><circle cx="388.75" cy="118.75" r="1.55" fill="#b6ac77" stroke="#2e2a14" stroke-width="1.0"/><circle cx="388.10" cy="122.50" r="1.55" fill="#d3de8e" stroke="#3a3f1d" stroke-width="1.0"/><circle cx="398.50" cy="120.60" r="1.55" fill="#dfeaf6" stroke="#3f4449" stroke-width="1.0"/><circle cx="369.40" cy="121.25" r="1.55" fill="#b6ac77" stroke="#2e2a14" stroke-width="1.0"/><circle cx="367.50" cy="125.00" r="1.55" fill="#daa481" stroke="#3d2618" stroke-width="1.0"/><circle cx="371.25" cy="126.25" r="1.55" fill="#f6f1e6" stroke="#494642" stroke-width="1.0"/><circle cx="356.25" cy="124.40" r="1.55" fill="#daa481" stroke="#3d2618" stroke-width="1.0"/><circle cx="358.75" cy="125.00" r="1.55" fill="#daa481" stroke="#3d2618" stroke-width="1.0"/><circle cx="357.50" cy="131.90" r="1.55" fill="#f6f1e6" stroke="#494642" stroke-width="1.0"/><circle cx="388.10" cy="133.75" r="1.55" fill="#d79380" stroke="#3c2018" stroke-width="1.0"/><circle cx="369.40" cy="121.50" r="1.55" fill="#daa481" stroke="#3d2618" stroke-width="1.0"/><circle cx="359.40" cy="137.50" r="1.55" fill="#e1d68a" stroke="#403b1c" stroke-width="1.0"/><circle cx="364.40" cy="144.10" r="1.55" fill="#b6ac77" stroke="#2e2a14" stroke-width="1.0"/><circle cx="323.10" cy="106.00" r="1.55" fill="#a682c8" stroke="#281935" stroke-width="1.0"/><circle cx="326.00" cy="108.10" r="1.55" fill="#a682c8" stroke="#281935" stroke-width="1.0"/><circle cx="332.75" cy="112.25" r="1.55" fill="#a682c8" stroke="#281935" stroke-width="1.0"/><circle cx="335.60" cy="112.25" r="1.55" fill="#a682c8" stroke="#281935" stroke-width="1.0"/><circle cx="343.75" cy="101.25" r="1.55" fill="#a682c8" stroke="#281935" stroke-width="1.0"/><circle cx="343.10" cy="103.75" r="1.55" fill="#a682c8" stroke="#281935" stroke-width="1.0"/><circle cx="344.40" cy="105.60" r="1.55" fill="#a682c8" stroke="#281935" stroke-width="1.0"/><circle cx="347.50" cy="101.90" r="1.55" fill="#f6f1e6" stroke="#494642" stroke-width="1.0"/><circle cx="348.10" cy="103.75" r="1.55" fill="#a682c8" stroke="#281935" stroke-width="1.0"/><circle cx="350.60" cy="100.60" r="1.55" fill="#a682c8" stroke="#281935" stroke-width="1.0"/><circle cx="343.10" cy="111.25" r="1.55" fill="#a682c8" stroke="#281935" stroke-width="1.0"/><circle cx="345.00" cy="112.50" r="1.55" fill="#a682c8" stroke="#281935" stroke-width="1.0"/><circle cx="348.10" cy="113.10" r="1.55" fill="#a682c8" stroke="#281935" stroke-width="1.0"/><circle cx="348.75" cy="110.00" r="1.55" fill="#f6f1e6" stroke="#494642" stroke-width="1.0"/><circle cx="350.60" cy="105.60" r="1.55" fill="#daa481" stroke="#3d2618" stroke-width="1.0"/><circle cx="351.90" cy="108.75" r="1.55" fill="#f6f1e6" stroke="#494642" stroke-width="1.0"/><circle cx="355.00" cy="103.75" r="1.55" fill="#dfeaf6" stroke="#3f4449" stroke-width="1.0"/><circle cx="355.60" cy="106.25" r="1.55" fill="#f6f1e6" stroke="#494642" stroke-width="1.0"/><circle cx="358.10" cy="105.00" r="1.55" fill="#daa481" stroke="#3d2618" stroke-width="1.0"/><circle cx="355.00" cy="108.75" r="1.55" fill="#f6f1e6" stroke="#494642" stroke-width="1.0"/><circle cx="358.75" cy="108.75" r="1.55" fill="#f6f1e6" stroke="#494642" stroke-width="1.0"/><circle cx="360.60" cy="95.60" r="1.55" fill="#daa481" stroke="#3d2618" stroke-width="1.0"/><circle cx="362.50" cy="95.00" r="1.55" fill="#699b6d" stroke="#0e2310" stroke-width="1.0"/><circle cx="357.50" cy="97.50" r="1.55" fill="#6666cc" stroke="#0d0d37" stroke-width="1.0"/><circle cx="359.40" cy="99.40" r="1.55" fill="#6666cc" stroke="#0d0d37" stroke-width="1.0"/><circle cx="361.90" cy="98.75" r="1.55" fill="#daa481" stroke="#3d2618" stroke-width="1.0"/><circle cx="352.50" cy="111.90" r="1.55" fill="#ebe080" stroke="#444017" stroke-width="1.0"/><circle cx="356.90" cy="113.10" r="1.55" fill="#f6f1e6" stroke="#494642" stroke-width="1.0"/><circle cx="359.40" cy="112.50" r="1.55" fill="#daa481" stroke="#3d2618" stroke-width="1.0"/><circle cx="362.50" cy="108.75" r="1.55" fill="#85be78" stroke="#1a3214" stroke-width="1.0"/><circle cx="363.10" cy="111.90" r="1.55" fill="#85be78" stroke="#1a3214" stroke-width="1.0"/><circle cx="346.90" cy="116.90" r="1.55" fill="#85be78" stroke="#1a3214" stroke-width="1.0"/><circle cx="348.75" cy="116.25" r="1.55" fill="#f6f1e6" stroke="#494642" stroke-width="1.0"/><circle cx="350.60" cy="118.10" r="1.55" fill="#85be78" stroke="#1a3214" stroke-width="1.0"/><circle cx="352.50" cy="115.60" r="1.55" fill="#f6f1e6" stroke="#494642" stroke-width="1.0"/><circle cx="355.00" cy="116.25" r="1.55" fill="#f6f1e6" stroke="#494642" stroke-width="1.0"/><circle cx="361.25" cy="115.60" r="1.55" fill="#f6f1e6" stroke="#494642" stroke-width="1.0"/><circle cx="360.60" cy="119.40" r="1.55" fill="#daa481" stroke="#3d2618" stroke-width="1.0"/><circle cx="353.75" cy="123.10" r="1.55" fill="#daa481" stroke="#3d2618" stroke-width="1.0"/><circle cx="355.60" cy="125.00" r="1.55" fill="#daa481" stroke="#3d2618" stroke-width="1.0"/><circle cx="358.10" cy="124.40" r="1.55" fill="#daa481" stroke="#3d2618" stroke-width="1.0"/><rect x="498.6" y="6.3" width="15.75" height="87.8" fill="#fff" fill-opacity="0.8" stroke="#ddd" stroke-width="0.5" rx="0.5"/><circle cx="502.3" cy="9.70" r="1.55" fill="#9f666d" stroke="#250d10" stroke-width="1.0"/><text class="s" x="507.70" y="10.80" font-size="3.6" fill="#555" stroke="#555" stroke-width="0.1">1</text><circle cx="502.3" cy="14.00" r="1.55" fill="#d79380" stroke="#3c2018" stroke-width="1.0"/><text class="s" x="507.70" y="15.10" font-size="3.6" fill="#555" stroke="#555" stroke-width="0.1">2a</text><circle cx="502.3" cy="18.30" r="1.55" fill="#f6f1e6" stroke="#494642" stroke-width="1.0"/><text class="s" x="507.70" y="19.40" font-size="3.6" fill="#555" stroke="#555" stroke-width="0.1">2b</text><circle cx="502.3" cy="22.60" r="1.55" fill="#d4b382" stroke="#3a2d19" stroke-width="1.0"/><text class="s" x="507.70" y="23.70" font-size="3.6" fill="#555" stroke="#555" stroke-width="0.1">2c</text><circle cx="502.3" cy="26.90" r="1.55" fill="#dfbc82" stroke="#3f3119" stroke-width="1.0"/><text class="s" x="507.70" y="28.00" font-size="3.6" fill="#555" stroke="#555" stroke-width="0.1">2d</text><circle cx="502.3" cy="31.20" r="1.55" fill="#ebe080" stroke="#444017" stroke-width="1.0"/><text class="s" x="507.70" y="32.30" font-size="3.6" fill="#555" stroke="#555" stroke-width="0.1">3a</text><circle cx="502.3" cy="35.50" r="1.55" fill="#e1d68a" stroke="#403b1c" stroke-width="1.0"/><text class="s" x="507.70" y="36.60" font-size="3.6" fill="#555" stroke="#555" stroke-width="0.1">3b</text><circle cx="502.3" cy="39.80" r="1.55" fill="#d3de8e" stroke="#3a3f1d" stroke-width="1.0"/><text class="s" x="507.70" y="40.90" font-size="3.6" fill="#555" stroke="#555" stroke-width="0.1">4a</text><circle cx="502.3" cy="44.10" r="1.55" fill="#699b6d" stroke="#0e2310" stroke-width="1.0"/><text class="s" x="507.70" y="45.20" font-size="3.6" fill="#555" stroke="#555" stroke-width="0.1">4b</text><circle cx="502.3" cy="48.40" r="1.55" fill="#85be78" stroke="#1a3214" stroke-width="1.0"/><text class="s" x="507.70" y="49.50" font-size="3.6" fill="#555" stroke="#555" stroke-width="0.1">4c</text><circle cx="502.3" cy="52.70" r="1.55" fill="#78d2d2" stroke="#143a3a" stroke-width="1.0"/><text class="s" x="507.70" y="53.80" font-size="3.6" fill="#555" stroke="#555" stroke-width="0.1">5a</text><circle cx="502.3" cy="57.00" r="1.55" fill="#eef6f6" stroke="#464949" stroke-width="1.0"/><text class="s" x="507.70" y="58.10" font-size="3.6" fill="#555" stroke="#555" stroke-width="0.1">5b</text><circle cx="502.3" cy="61.30" r="1.55" fill="#80b9b9" stroke="#182f2f" stroke-width="1.0"/><text class="s" x="507.70" y="62.40" font-size="3.6" fill="#555" stroke="#555" stroke-width="0.1">5c</text><circle cx="502.3" cy="65.60" r="1.55" fill="#dfeaf6" stroke="#3f4449" stroke-width="1.0"/><text class="s" x="507.70" y="66.70" font-size="3.6" fill="#555" stroke="#555" stroke-width="0.1">5d</text><circle cx="502.3" cy="69.90" r="1.55" fill="#6666cc" stroke="#0d0d37" stroke-width="1.0"/><text class="s" x="507.70" y="71.00" font-size="3.6" fill="#555" stroke="#555" stroke-width="0.1">6a</text><circle cx="502.3" cy="74.20" r="1.55" fill="#c8d3ea" stroke="#353a44" stroke-width="1.0"/><text class="s" x="507.70" y="75.30" font-size="3.6" fill="#555" stroke="#555" stroke-width="0.1">6b</text><circle cx="502.3" cy="78.50" r="1.55" fill="#a682c8" stroke="#281935" stroke-width="1.0"/><text class="s" x="507.70" y="79.60" font-size="3.6" fill="#555" stroke="#555" stroke-width="0.1">7a</text><circle cx="502.3" cy="82.80" r="1.55" fill="#ead3ea" stroke="#443a44" stroke-width="1.0"/><text class="s" x="507.70" y="83.90" font-size="3.6" fill="#555" stroke="#555" stroke-width="0.1">7b</text><circle cx="502.3" cy="87.10" r="1.55" fill="#d378d3" stroke="#3a143a" stroke-width="1.0"/><text class="s" x="507.70" y="88.20" font-size="3.6" fill="#555" stroke="#555" stroke-width="0.1">7c</text><circle cx="502.3" cy="91.40" r="1.55" fill="#a3996c" stroke="#26220f" stroke-width="1.0"/><text class="s" x="507.70" y="92.50" font-size="3.6" fill="#555" stroke="#555" stroke-width="0.1">ND</text><rect x="304.4" y="5.8" width="210.45000000000005" height="156.79999999999998" fill="none" stroke="#2a2a2a" stroke-width="0.95"/><line x1="304.40" y1="162.6" x2="304.40" y2="164.79999999999998" stroke="#333" stroke-width="0.6"/><line x1="302.2" y1="162.60" x2="304.4" y2="162.60" stroke="#333" stroke-width="0.6"/><line x1="313.45" y1="162.6" x2="313.45" y2="163.79999999999998" stroke="#555" stroke-width="0.45"/><line x1="303.2" y1="155.86" x2="304.4" y2="155.86" stroke="#555" stroke-width="0.45"/><line x1="318.74" y1="162.6" x2="318.74" y2="163.79999999999998" stroke="#555" stroke-width="0.45"/><line x1="303.2" y1="151.91" x2="304.4" y2="151.91" stroke="#555" stroke-width="0.45"/><line x1="322.50" y1="162.6" x2="322.50" y2="163.79999999999998" stroke="#555" stroke-width="0.45"/><line x1="303.2" y1="149.11" x2="304.4" y2="149.11" stroke="#555" stroke-width="0.45"/><line x1="325.41" y1="162.6" x2="325.41" y2="163.79999999999998" stroke="#555" stroke-width="0.45"/><line x1="303.2" y1="146.94" x2="304.4" y2="146.94" stroke="#555" stroke-width="0.45"/><line x1="327.79" y1="162.6" x2="327.79" y2="163.79999999999998" stroke="#555" stroke-width="0.45"/><line x1="303.2" y1="145.17" x2="304.4" y2="145.17" stroke="#555" stroke-width="0.45"/><line x1="329.81" y1="162.6" x2="329.81" y2="163.79999999999998" stroke="#555" stroke-width="0.45"/><line x1="303.2" y1="143.67" x2="304.4" y2="143.67" stroke="#555" stroke-width="0.45"/><line x1="331.55" y1="162.6" x2="331.55" y2="163.79999999999998" stroke="#555" stroke-width="0.45"/><line x1="303.2" y1="142.37" x2="304.4" y2="142.37" stroke="#555" stroke-width="0.45"/><line x1="333.09" y1="162.6" x2="333.09" y2="163.79999999999998" stroke="#555" stroke-width="0.45"/><line x1="303.2" y1="141.22" x2="304.4" y2="141.22" stroke="#555" stroke-width="0.45"/><text class="t" x="304.40" y="170.90" font-size="6.8" fill="#111" stroke="#111" stroke-width="0.18" text-anchor="middle">10<tspan font-size="4.6" dy="-2.8">−1</tspan></text><text class="t" x="300.40" y="164.60" font-size="6.8" fill="#111" stroke="#111" stroke-width="0.18" text-anchor="end">10<tspan font-size="4.6" dy="-2.8">−1</tspan></text><line x1="334.46" y1="162.6" x2="334.46" y2="164.79999999999998" stroke="#333" stroke-width="0.6"/><line x1="302.2" y1="140.20" x2="304.4" y2="140.20" stroke="#333" stroke-width="0.6"/><line x1="343.51" y1="162.6" x2="343.51" y2="163.79999999999998" stroke="#555" stroke-width="0.45"/><line x1="303.2" y1="133.46" x2="304.4" y2="133.46" stroke="#555" stroke-width="0.45"/><line x1="348.81" y1="162.6" x2="348.81" y2="163.79999999999998" stroke="#555" stroke-width="0.45"/><line x1="303.2" y1="129.51" x2="304.4" y2="129.51" stroke="#555" stroke-width="0.45"/><line x1="352.56" y1="162.6" x2="352.56" y2="163.79999999999998" stroke="#555" stroke-width="0.45"/><line x1="303.2" y1="126.71" x2="304.4" y2="126.71" stroke="#555" stroke-width="0.45"/><line x1="355.48" y1="162.6" x2="355.48" y2="163.79999999999998" stroke="#555" stroke-width="0.45"/><line x1="303.2" y1="124.54" x2="304.4" y2="124.54" stroke="#555" stroke-width="0.45"/><line x1="357.86" y1="162.6" x2="357.86" y2="163.79999999999998" stroke="#555" stroke-width="0.45"/><line x1="303.2" y1="122.77" x2="304.4" y2="122.77" stroke="#555" stroke-width="0.45"/><line x1="359.87" y1="162.6" x2="359.87" y2="163.79999999999998" stroke="#555" stroke-width="0.45"/><line x1="303.2" y1="121.27" x2="304.4" y2="121.27" stroke="#555" stroke-width="0.45"/><line x1="361.62" y1="162.6" x2="361.62" y2="163.79999999999998" stroke="#555" stroke-width="0.45"/><line x1="303.2" y1="119.97" x2="304.4" y2="119.97" stroke="#555" stroke-width="0.45"/><line x1="363.15" y1="162.6" x2="363.15" y2="163.79999999999998" stroke="#555" stroke-width="0.45"/><line x1="303.2" y1="118.82" x2="304.4" y2="118.82" stroke="#555" stroke-width="0.45"/><text class="t" x="334.46" y="170.90" font-size="6.8" fill="#111" stroke="#111" stroke-width="0.18" text-anchor="middle">10<tspan font-size="4.6" dy="-2.8">0</tspan></text><text class="t" x="300.40" y="142.20" font-size="6.8" fill="#111" stroke="#111" stroke-width="0.18" text-anchor="end">10<tspan font-size="4.6" dy="-2.8">0</tspan></text><line x1="364.53" y1="162.6" x2="364.53" y2="164.79999999999998" stroke="#333" stroke-width="0.6"/><line x1="302.2" y1="117.80" x2="304.4" y2="117.80" stroke="#333" stroke-width="0.6"/><line x1="373.58" y1="162.6" x2="373.58" y2="163.79999999999998" stroke="#555" stroke-width="0.45"/><line x1="303.2" y1="111.06" x2="304.4" y2="111.06" stroke="#555" stroke-width="0.45"/><line x1="378.87" y1="162.6" x2="378.87" y2="163.79999999999998" stroke="#555" stroke-width="0.45"/><line x1="303.2" y1="107.11" x2="304.4" y2="107.11" stroke="#555" stroke-width="0.45"/><line x1="382.63" y1="162.6" x2="382.63" y2="163.79999999999998" stroke="#555" stroke-width="0.45"/><line x1="303.2" y1="104.31" x2="304.4" y2="104.31" stroke="#555" stroke-width="0.45"/><line x1="385.54" y1="162.6" x2="385.54" y2="163.79999999999998" stroke="#555" stroke-width="0.45"/><line x1="303.2" y1="102.14" x2="304.4" y2="102.14" stroke="#555" stroke-width="0.45"/><line x1="387.92" y1="162.6" x2="387.92" y2="163.79999999999998" stroke="#555" stroke-width="0.45"/><line x1="303.2" y1="100.37" x2="304.4" y2="100.37" stroke="#555" stroke-width="0.45"/><line x1="389.94" y1="162.6" x2="389.94" y2="163.79999999999998" stroke="#555" stroke-width="0.45"/><line x1="303.2" y1="98.87" x2="304.4" y2="98.87" stroke="#555" stroke-width="0.45"/><line x1="391.68" y1="162.6" x2="391.68" y2="163.79999999999998" stroke="#555" stroke-width="0.45"/><line x1="303.2" y1="97.57" x2="304.4" y2="97.57" stroke="#555" stroke-width="0.45"/><line x1="393.22" y1="162.6" x2="393.22" y2="163.79999999999998" stroke="#555" stroke-width="0.45"/><line x1="303.2" y1="96.42" x2="304.4" y2="96.42" stroke="#555" stroke-width="0.45"/><text class="t" x="364.53" y="170.90" font-size="6.8" fill="#111" stroke="#111" stroke-width="0.18" text-anchor="middle">10<tspan font-size="4.6" dy="-2.8">1</tspan></text><text class="t" x="300.40" y="119.80" font-size="6.8" fill="#111" stroke="#111" stroke-width="0.18" text-anchor="end">10<tspan font-size="4.6" dy="-2.8">1</tspan></text><line x1="394.59" y1="162.6" x2="394.59" y2="164.79999999999998" stroke="#333" stroke-width="0.6"/><line x1="302.2" y1="95.40" x2="304.4" y2="95.40" stroke="#333" stroke-width="0.6"/><line x1="403.64" y1="162.6" x2="403.64" y2="163.79999999999998" stroke="#555" stroke-width="0.45"/><line x1="303.2" y1="88.66" x2="304.4" y2="88.66" stroke="#555" stroke-width="0.45"/><line x1="408.94" y1="162.6" x2="408.94" y2="163.79999999999998" stroke="#555" stroke-width="0.45"/><line x1="303.2" y1="84.71" x2="304.4" y2="84.71" stroke="#555" stroke-width="0.45"/><line x1="412.69" y1="162.6" x2="412.69" y2="163.79999999999998" stroke="#555" stroke-width="0.45"/><line x1="303.2" y1="81.91" x2="304.4" y2="81.91" stroke="#555" stroke-width="0.45"/><line x1="415.61" y1="162.6" x2="415.61" y2="163.79999999999998" stroke="#555" stroke-width="0.45"/><line x1="303.2" y1="79.74" x2="304.4" y2="79.74" stroke="#555" stroke-width="0.45"/><line x1="417.99" y1="162.6" x2="417.99" y2="163.79999999999998" stroke="#555" stroke-width="0.45"/><line x1="303.2" y1="77.97" x2="304.4" y2="77.97" stroke="#555" stroke-width="0.45"/><line x1="420.00" y1="162.6" x2="420.00" y2="163.79999999999998" stroke="#555" stroke-width="0.45"/><line x1="303.2" y1="76.47" x2="304.4" y2="76.47" stroke="#555" stroke-width="0.45"/><line x1="421.74" y1="162.6" x2="421.74" y2="163.79999999999998" stroke="#555" stroke-width="0.45"/><line x1="303.2" y1="75.17" x2="304.4" y2="75.17" stroke="#555" stroke-width="0.45"/><line x1="423.28" y1="162.6" x2="423.28" y2="163.79999999999998" stroke="#555" stroke-width="0.45"/><line x1="303.2" y1="74.02" x2="304.4" y2="74.02" stroke="#555" stroke-width="0.45"/><text class="t" x="394.59" y="170.90" font-size="6.8" fill="#111" stroke="#111" stroke-width="0.18" text-anchor="middle">10<tspan font-size="4.6" dy="-2.8">2</tspan></text><text class="t" x="300.40" y="97.40" font-size="6.8" fill="#111" stroke="#111" stroke-width="0.18" text-anchor="end">10<tspan font-size="4.6" dy="-2.8">2</tspan></text><line x1="424.66" y1="162.6" x2="424.66" y2="164.79999999999998" stroke="#333" stroke-width="0.6"/><line x1="302.2" y1="73.00" x2="304.4" y2="73.00" stroke="#333" stroke-width="0.6"/><line x1="433.71" y1="162.6" x2="433.71" y2="163.79999999999998" stroke="#555" stroke-width="0.45"/><line x1="303.2" y1="66.26" x2="304.4" y2="66.26" stroke="#555" stroke-width="0.45"/><line x1="439.00" y1="162.6" x2="439.00" y2="163.79999999999998" stroke="#555" stroke-width="0.45"/><line x1="303.2" y1="62.31" x2="304.4" y2="62.31" stroke="#555" stroke-width="0.45"/><line x1="442.76" y1="162.6" x2="442.76" y2="163.79999999999998" stroke="#555" stroke-width="0.45"/><line x1="303.2" y1="59.51" x2="304.4" y2="59.51" stroke="#555" stroke-width="0.45"/><line x1="445.67" y1="162.6" x2="445.67" y2="163.79999999999998" stroke="#555" stroke-width="0.45"/><line x1="303.2" y1="57.34" x2="304.4" y2="57.34" stroke="#555" stroke-width="0.45"/><line x1="448.05" y1="162.6" x2="448.05" y2="163.79999999999998" stroke="#555" stroke-width="0.45"/><line x1="303.2" y1="55.57" x2="304.4" y2="55.57" stroke="#555" stroke-width="0.45"/><line x1="450.06" y1="162.6" x2="450.06" y2="163.79999999999998" stroke="#555" stroke-width="0.45"/><line x1="303.2" y1="54.07" x2="304.4" y2="54.07" stroke="#555" stroke-width="0.45"/><line x1="451.81" y1="162.6" x2="451.81" y2="163.79999999999998" stroke="#555" stroke-width="0.45"/><line x1="303.2" y1="52.77" x2="304.4" y2="52.77" stroke="#555" stroke-width="0.45"/><line x1="453.35" y1="162.6" x2="453.35" y2="163.79999999999998" stroke="#555" stroke-width="0.45"/><line x1="303.2" y1="51.62" x2="304.4" y2="51.62" stroke="#555" stroke-width="0.45"/><text class="t" x="424.66" y="170.90" font-size="6.8" fill="#111" stroke="#111" stroke-width="0.18" text-anchor="middle">10<tspan font-size="4.6" dy="-2.8">3</tspan></text><text class="t" x="300.40" y="75.00" font-size="6.8" fill="#111" stroke="#111" stroke-width="0.18" text-anchor="end">10<tspan font-size="4.6" dy="-2.8">3</tspan></text><line x1="454.72" y1="162.6" x2="454.72" y2="164.79999999999998" stroke="#333" stroke-width="0.6"/><line x1="302.2" y1="50.60" x2="304.4" y2="50.60" stroke="#333" stroke-width="0.6"/><line x1="463.77" y1="162.6" x2="463.77" y2="163.79999999999998" stroke="#555" stroke-width="0.45"/><line x1="303.2" y1="43.86" x2="304.4" y2="43.86" stroke="#555" stroke-width="0.45"/><line x1="469.07" y1="162.6" x2="469.07" y2="163.79999999999998" stroke="#555" stroke-width="0.45"/><line x1="303.2" y1="39.91" x2="304.4" y2="39.91" stroke="#555" stroke-width="0.45"/><line x1="472.82" y1="162.6" x2="472.82" y2="163.79999999999998" stroke="#555" stroke-width="0.45"/><line x1="303.2" y1="37.11" x2="304.4" y2="37.11" stroke="#555" stroke-width="0.45"/><line x1="475.74" y1="162.6" x2="475.74" y2="163.79999999999998" stroke="#555" stroke-width="0.45"/><line x1="303.2" y1="34.94" x2="304.4" y2="34.94" stroke="#555" stroke-width="0.45"/><line x1="478.12" y1="162.6" x2="478.12" y2="163.79999999999998" stroke="#555" stroke-width="0.45"/><line x1="303.2" y1="33.17" x2="304.4" y2="33.17" stroke="#555" stroke-width="0.45"/><line x1="480.13" y1="162.6" x2="480.13" y2="163.79999999999998" stroke="#555" stroke-width="0.45"/><line x1="303.2" y1="31.67" x2="304.4" y2="31.67" stroke="#555" stroke-width="0.45"/><line x1="481.87" y1="162.6" x2="481.87" y2="163.79999999999998" stroke="#555" stroke-width="0.45"/><line x1="303.2" y1="30.37" x2="304.4" y2="30.37" stroke="#555" stroke-width="0.45"/><line x1="483.41" y1="162.6" x2="483.41" y2="163.79999999999998" stroke="#555" stroke-width="0.45"/><line x1="303.2" y1="29.22" x2="304.4" y2="29.22" stroke="#555" stroke-width="0.45"/><text class="t" x="454.72" y="170.90" font-size="6.8" fill="#111" stroke="#111" stroke-width="0.18" text-anchor="middle">10<tspan font-size="4.6" dy="-2.8">4</tspan></text><text class="t" x="300.40" y="52.60" font-size="6.8" fill="#111" stroke="#111" stroke-width="0.18" text-anchor="end">10<tspan font-size="4.6" dy="-2.8">4</tspan></text><line x1="484.79" y1="162.6" x2="484.79" y2="164.79999999999998" stroke="#333" stroke-width="0.6"/><line x1="302.2" y1="28.20" x2="304.4" y2="28.20" stroke="#333" stroke-width="0.6"/><line x1="493.84" y1="162.6" x2="493.84" y2="163.79999999999998" stroke="#555" stroke-width="0.45"/><line x1="303.2" y1="21.46" x2="304.4" y2="21.46" stroke="#555" stroke-width="0.45"/><line x1="499.13" y1="162.6" x2="499.13" y2="163.79999999999998" stroke="#555" stroke-width="0.45"/><line x1="303.2" y1="17.51" x2="304.4" y2="17.51" stroke="#555" stroke-width="0.45"/><line x1="502.89" y1="162.6" x2="502.89" y2="163.79999999999998" stroke="#555" stroke-width="0.45"/><line x1="303.2" y1="14.71" x2="304.4" y2="14.71" stroke="#555" stroke-width="0.45"/><line x1="505.80" y1="162.6" x2="505.80" y2="163.79999999999998" stroke="#555" stroke-width="0.45"/><line x1="303.2" y1="12.54" x2="304.4" y2="12.54" stroke="#555" stroke-width="0.45"/><line x1="508.18" y1="162.6" x2="508.18" y2="163.79999999999998" stroke="#555" stroke-width="0.45"/><line x1="303.2" y1="10.77" x2="304.4" y2="10.77" stroke="#555" stroke-width="0.45"/><line x1="510.19" y1="162.6" x2="510.19" y2="163.79999999999998" stroke="#555" stroke-width="0.45"/><line x1="303.2" y1="9.27" x2="304.4" y2="9.27" stroke="#555" stroke-width="0.45"/><line x1="511.94" y1="162.6" x2="511.94" y2="163.79999999999998" stroke="#555" stroke-width="0.45"/><line x1="303.2" y1="7.97" x2="304.4" y2="7.97" stroke="#555" stroke-width="0.45"/><line x1="513.47" y1="162.6" x2="513.47" y2="163.79999999999998" stroke="#555" stroke-width="0.45"/><line x1="303.2" y1="6.82" x2="304.4" y2="6.82" stroke="#555" stroke-width="0.45"/><text class="t" x="484.79" y="170.90" font-size="6.8" fill="#111" stroke="#111" stroke-width="0.18" text-anchor="middle">10<tspan font-size="4.6" dy="-2.8">5</tspan></text><text class="t" x="300.40" y="30.20" font-size="6.8" fill="#111" stroke="#111" stroke-width="0.18" text-anchor="end">10<tspan font-size="4.6" dy="-2.8">5</tspan></text><line x1="514.85" y1="162.6" x2="514.85" y2="164.79999999999998" stroke="#333" stroke-width="0.6"/><line x1="302.2" y1="5.80" x2="304.4" y2="5.80" stroke="#333" stroke-width="0.6"/><text class="t" x="514.85" y="170.90" font-size="6.8" fill="#111" stroke="#111" stroke-width="0.18" text-anchor="middle">10<tspan font-size="4.6" dy="-2.8">6</tspan></text><text class="t" x="300.40" y="7.80" font-size="6.8" fill="#111" stroke="#111" stroke-width="0.18" text-anchor="end">10<tspan font-size="4.6" dy="-2.8">6</tspan></text><text class="s" x="256.3" y="14.6" font-size="11.8" font-weight="bold" fill="#111">(B)</text><text class="s" x="310" y="15.9" font-size="7.8" font-weight="bold" fill="#111">r = 0.773</text><text class="s" x="310" y="25.2" font-size="7.8" font-weight="bold" fill="#111">p-value = 4.8e-63</text><text class="s" x="340.3" y="179.3" font-size="6.0" fill="#1a1a1a" stroke="#1a1a1a" stroke-width="0.14" textLength="137.5" lengthAdjust="spacingAndGlyphs"><tspan font-style="italic">IC</tspan><tspan font-size="4.20" dy="1.6">50</tspan><tspan dy="-1.6"> (ng/mL),Pseudovirus neutralization (D614)</tspan></text><text class="s" transform="translate(283.0,167.5) rotate(-90)" x="0" y="0" font-size="6.0" fill="#1a1a1a" stroke="#1a1a1a" stroke-width="0.14" textLength="165.5" lengthAdjust="spacingAndGlyphs"><tspan font-style="italic">IC</tspan><tspan font-size="4.20" dy="1.6">50</tspan><tspan dy="-1.6"> (ng/mL),Authentic virus neutralization (D614, UTMB)</tspan></text></g>
<g><circle cx="127.25" cy="218.60" r="1.55" fill="#e1d68a" stroke="#403b1c" stroke-width="1.0"/><circle cx="152.75" cy="218.60" r="1.55" fill="#d4b382" stroke="#3a2d19" stroke-width="1.0"/><circle cx="154.40" cy="218.60" r="1.55" fill="#b6ac77" stroke="#2e2a14" stroke-width="1.0"/><circle cx="157.10" cy="218.60" r="1.55" fill="#ebe080" stroke="#444017" stroke-width="1.0"/><circle cx="162.50" cy="218.60" r="1.55" fill="#d79380" stroke="#3c2018" stroke-width="1.0"/><circle cx="167.50" cy="218.60" r="1.55" fill="#b6ac77" stroke="#2e2a14" stroke-width="1.0"/><circle cx="169.40" cy="218.60" r="1.55" fill="#d4b382" stroke="#3a2d19" stroke-width="1.0"/><circle cx="104.40" cy="218.75" r="1.55" fill="#b6ac77" stroke="#2e2a14" stroke-width="1.0"/><circle cx="72.90" cy="244.75" r="1.55" fill="#b6ac77" stroke="#2e2a14" stroke-width="1.0"/><circle cx="181.90" cy="225.40" r="1.55" fill="#b6ac77" stroke="#2e2a14" stroke-width="1.0"/><circle cx="153.10" cy="228.10" r="1.55" fill="#dfeaf6" stroke="#3f4449" stroke-width="1.0"/><circle cx="164.40" cy="228.10" r="1.55" fill="#b6ac77" stroke="#2e2a14" stroke-width="1.0"/><circle cx="155.60" cy="231.90" r="1.55" fill="#daa481" stroke="#3d2618" stroke-width="1.0"/><circle cx="159.00" cy="233.10" r="1.55" fill="#c8d3ea" stroke="#353a44" stroke-width="1.0"/><circle cx="163.10" cy="234.10" r="1.55" fill="#85be78" stroke="#1a3214" stroke-width="1.0"/><circle cx="153.75" cy="236.25" r="1.55" fill="#f6f1e6" stroke="#494642" stroke-width="1.0"/><circle cx="165.25" cy="240.20" r="1.55" fill="#daa481" stroke="#3d2618" stroke-width="1.0"/><circle cx="165.25" cy="241.80" r="1.55" fill="#9f666d" stroke="#250d10" stroke-width="1.0"/><circle cx="185.25" cy="250.25" r="1.55" fill="#eef6f6" stroke="#464949" stroke-width="1.0"/><circle cx="206.60" cy="217.60" r="1.55" fill="#b6ac77" stroke="#2e2a14" stroke-width="1.0"/><circle cx="206.60" cy="219.70" r="1.55" fill="#b6ac77" stroke="#2e2a14" stroke-width="1.0"/><circle cx="206.60" cy="221.80" r="1.55" fill="#d4b382" stroke="#3a2d19" stroke-width="1.0"/><circle cx="206.60" cy="223.90" r="1.55" fill="#b6ac77" stroke="#2e2a14" stroke-width="1.0"/><circle cx="206.60" cy="226.10" r="1.55" fill="#d4b382" stroke="#3a2d19" stroke-width="1.0"/><circle cx="206.60" cy="228.30" r="1.55" fill="#c8d3ea" stroke="#353a44" stroke-width="1.0"/><circle cx="206.60" cy="230.40" r="1.55" fill="#dfeaf6" stroke="#3f4449" stroke-width="1.0"/><circle cx="206.60" cy="232.50" r="1.55" fill="#c8d3ea" stroke="#353a44" stroke-width="1.0"/><circle cx="206.60" cy="234.60" r="1.55" fill="#eef6f6" stroke="#464949" stroke-width="1.0"/><circle cx="206.60" cy="236.70" r="1.55" fill="#f6f1e6" stroke="#494642" stroke-width="1.0"/><circle cx="206.60" cy="238.80" r="1.55" fill="#ebe080" stroke="#444017" stroke-width="1.0"/><circle cx="206.60" cy="241.00" r="1.55" fill="#ebe080" stroke="#444017" stroke-width="1.0"/><circle cx="206.60" cy="243.20" r="1.55" fill="#ebe080" stroke="#444017" stroke-width="1.0"/><circle cx="206.60" cy="245.40" r="1.55" fill="#e1d68a" stroke="#403b1c" stroke-width="1.0"/><circle cx="206.60" cy="247.60" r="1.55" fill="#b6ac77" stroke="#2e2a14" stroke-width="1.0"/><circle cx="206.60" cy="249.80" r="1.55" fill="#699b6d" stroke="#0e2310" stroke-width="1.0"/><circle cx="206.60" cy="252.00" r="1.55" fill="#b6ac77" stroke="#2e2a14" stroke-width="1.0"/><circle cx="206.60" cy="254.20" r="1.55" fill="#e1d68a" stroke="#403b1c" stroke-width="1.0"/><circle cx="206.60" cy="256.40" r="1.55" fill="#b6ac77" stroke="#2e2a14" stroke-width="1.0"/><circle cx="206.60" cy="258.60" r="1.55" fill="#e1d68a" stroke="#403b1c" stroke-width="1.0"/><circle cx="206.60" cy="260.80" r="1.55" fill="#b6ac77" stroke="#2e2a14" stroke-width="1.0"/><circle cx="206.60" cy="262.40" r="1.55" fill="#b6ac77" stroke="#2e2a14" stroke-width="1.0"/><circle cx="206.60" cy="268.30" r="1.55" fill="#b6ac77" stroke="#2e2a14" stroke-width="1.0"/><circle cx="206.60" cy="279.50" r="1.55" fill="#ebe080" stroke="#444017" stroke-width="1.0"/><circle cx="206.60" cy="285.90" r="1.55" fill="#b6ac77" stroke="#2e2a14" stroke-width="1.0"/><circle cx="206.90" cy="326.00" r="1.55" fill="#a682c8" stroke="#281935" stroke-width="1.0"/><circle cx="150.00" cy="250.60" r="1.55" fill="#daa481" stroke="#3d2618" stroke-width="1.0"/><circle cx="153.10" cy="249.75" r="1.55" fill="#ebe080" stroke="#444017" stroke-width="1.0"/><circle cx="156.25" cy="249.40" r="1.55" fill="#b6ac77" stroke="#2e2a14" stroke-width="1.0"/><circle cx="161.00" cy="250.40" r="1.55" fill="#b6ac77" stroke="#2e2a14" stroke-width="1.0"/><circle cx="158.75" cy="253.75" r="1.55" fill="#b6ac77" stroke="#2e2a14" stroke-width="1.0"/><circle cx="154.00" cy="256.00" r="1.55" fill="#78d2d2" stroke="#143a3a" stroke-width="1.0"/><circle cx="161.90" cy="258.10" r="1.55" fill="#c8d3ea" stroke="#353a44" stroke-width="1.0"/><circle cx="151.00" cy="259.00" r="1.55" fill="#6666cc" stroke="#0d0d37" stroke-width="1.0"/><circle cx="170.60" cy="254.40" r="1.55" fill="#6666cc" stroke="#0d0d37" stroke-width="1.0"/><circle cx="172.25" cy="252.90" r="1.55" fill="#6666cc" stroke="#0d0d37" stroke-width="1.0"/><circle cx="169.75" cy="261.90" r="1.55" fill="#ebe080" stroke="#444017" stroke-width="1.0"/><circle cx="149.40" cy="263.50" r="1.55" fill="#b6ac77" stroke="#2e2a14" stroke-width="1.0"/><circle cx="152.50" cy="263.50" r="1.55" fill="#a682c8" stroke="#281935" stroke-width="1.0"/><circle cx="151.25" cy="266.25" r="1.55" fill="#a682c8" stroke="#281935" stroke-width="1.0"/><circle cx="141.25" cy="267.50" r="1.55" fill="#c8d3ea" stroke="#353a44" stroke-width="1.0"/><circle cx="142.75" cy="271.25" r="1.55" fill="#a682c8" stroke="#281935" stroke-width="1.0"/><circle cx="150.00" cy="271.00" r="1.55" fill="#b6ac77" stroke="#2e2a14" stroke-width="1.0"/><circle cx="152.90" cy="269.75" r="1.55" fill="#c8d3ea" stroke="#353a44" stroke-width="1.0"/><circle cx="138.10" cy="257.25" r="1.55" fill="#b6ac77" stroke="#2e2a14" stroke-width="1.0"/><circle cx="122.25" cy="262.50" r="1.55" fill="#b6ac77" stroke="#2e2a14" stroke-width="1.0"/><circle cx="131.50" cy="266.60" r="1.55" fill="#e1d68a" stroke="#403b1c" stroke-width="1.0"/><circle cx="134.60" cy="272.50" r="1.55" fill="#daa481" stroke="#3d2618" stroke-width="1.0"/><circle cx="156.00" cy="274.75" r="1.55" fill="#b6ac77" stroke="#2e2a14" stroke-width="1.0"/><circle cx="163.75" cy="279.90" r="1.55" fill="#c8d3ea" stroke="#353a44" stroke-width="1.0"/><circle cx="128.75" cy="278.60" r="1.55" fill="#a682c8" stroke="#281935" stroke-width="1.0"/><circle cx="117.25" cy="282.50" r="1.55" fill="#daa481" stroke="#3d2618" stroke-width="1.0"/><circle cx="120.60" cy="284.75" r="1.55" fill="#a682c8" stroke="#281935" stroke-width="1.0"/><circle cx="125.60" cy="283.75" r="1.55" fill="#a682c8" stroke="#281935" stroke-width="1.0"/><circle cx="126.00" cy="284.00" r="1.55" fill="#a682c8" stroke="#281935" stroke-width="1.0"/><circle cx="130.60" cy="283.00" r="1.55" fill="#daa481" stroke="#3d2618" stroke-width="1.0"/><circle cx="132.25" cy="285.25" r="1.55" fill="#b6ac77" stroke="#2e2a14" stroke-width="1.0"/><circle cx="122.50" cy="286.90" r="1.55" fill="#b6ac77" stroke="#2e2a14" stroke-width="1.0"/><circle cx="120.00" cy="288.10" r="1.55" fill="#b6ac77" stroke="#2e2a14" stroke-width="1.0"/><circle cx="117.50" cy="291.25" r="1.55" fill="#78d2d2" stroke="#143a3a" stroke-width="1.0"/><circle cx="127.75" cy="289.90" r="1.55" fill="#f6f1e6" stroke="#494642" stroke-width="1.0"/><circle cx="126.25" cy="292.50" r="1.55" fill="#78d2d2" stroke="#143a3a" stroke-width="1.0"/><circle cx="125.60" cy="293.60" r="1.55" fill="#78d2d2" stroke="#143a3a" stroke-width="1.0"/><circle cx="131.25" cy="291.10" r="1.55" fill="#85be78" stroke="#1a3214" stroke-width="1.0"/><circle cx="129.75" cy="294.50" r="1.55" fill="#6666cc" stroke="#0d0d37" stroke-width="1.0"/><circle cx="110.60" cy="293.10" r="1.55" fill="#f6f1e6" stroke="#494642" stroke-width="1.0"/><circle cx="147.75" cy="291.50" r="1.55" fill="#b6ac77" stroke="#2e2a14" stroke-width="1.0"/><circle cx="156.90" cy="289.50" r="1.55" fill="#eef6f6" stroke="#464949" stroke-width="1.0"/><circle cx="159.75" cy="294.00" r="1.55" fill="#699b6d" stroke="#0e2310" stroke-width="1.0"/><circle cx="146.90" cy="296.75" r="1.55" fill="#b6ac77" stroke="#2e2a14" stroke-width="1.0"/><circle cx="156.25" cy="296.75" r="1.55" fill="#b6ac77" stroke="#2e2a14" stroke-width="1.0"/><circle cx="160.60" cy="294.40" r="1.55" fill="#699b6d" stroke="#0e2310" stroke-width="1.0"/><circle cx="137.90" cy="302.00" r="1.55" fill="#699b6d" stroke="#0e2310" stroke-width="1.0"/><circle cx="129.40" cy="304.90" r="1.55" fill="#f6f1e6" stroke="#494642" stroke-width="1.0"/><circle cx="125.60" cy="315.25" r="1.55" fill="#85be78" stroke="#1a3214" stroke-width="1.0"/><circle cx="158.10" cy="321.10" r="1.55" fill="#699b6d" stroke="#0e2310" stroke-width="1.0"/><circle cx="150.60" cy="324.75" r="1.55" fill="#78d2d2" stroke="#143a3a" stroke-width="1.0"/><circle cx="100.00" cy="276.25" r="1.55" fill="#b6ac77" stroke="#2e2a14" stroke-width="1.0"/><circle cx="76.90" cy="287.50" r="1.55" fill="#a682c8" stroke="#281935" stroke-width="1.0"/><circle cx="73.75" cy="290.00" r="1.55" fill="#a682c8" stroke="#281935" stroke-width="1.0"/><circle cx="89.00" cy="289.00" r="1.55" fill="#6666cc" stroke="#0d0d37" stroke-width="1.0"/><circle cx="92.50" cy="292.50" r="1.55" fill="#a682c8" stroke="#281935" stroke-width="1.0"/><circle cx="97.25" cy="286.90" r="1.55" fill="#a682c8" stroke="#281935" stroke-width="1.0"/><circle cx="82.75" cy="295.25" r="1.55" fill="#a682c8" stroke="#281935" stroke-width="1.0"/><circle cx="81.90" cy="298.50" r="1.55" fill="#b6ac77" stroke="#2e2a14" stroke-width="1.0"/><circle cx="100.25" cy="294.40" r="1.55" fill="#699b6d" stroke="#0e2310" stroke-width="1.0"/><circle cx="95.00" cy="302.25" r="1.55" fill="#a682c8" stroke="#281935" stroke-width="1.0"/><circle cx="110.00" cy="293.75" r="1.55" fill="#f6f1e6" stroke="#494642" stroke-width="1.0"/><circle cx="113.10" cy="295.60" r="1.55" fill="#daa481" stroke="#3d2618" stroke-width="1.0"/><circle cx="108.10" cy="298.10" r="1.55" fill="#f6f1e6" stroke="#494642" stroke-width="1.0"/><circle cx="114.00" cy="300.00" r="1.55" fill="#f6f1e6" stroke="#494642" stroke-width="1.0"/><circle cx="120.60" cy="295.60" r="1.55" fill="#a682c8" stroke="#281935" stroke-width="1.0"/><circle cx="117.50" cy="302.25" r="1.55" fill="#daa481" stroke="#3d2618" stroke-width="1.0"/><circle cx="115.60" cy="304.75" r="1.55" fill="#f6f1e6" stroke="#494642" stroke-width="1.0"/><circle cx="77.50" cy="304.75" r="1.55" fill="#b6ac77" stroke="#2e2a14" stroke-width="1.0"/><circle cx="73.75" cy="308.75" r="1.55" fill="#a682c8" stroke="#281935" stroke-width="1.0"/><circle cx="103.10" cy="304.75" r="1.55" fill="#f6f1e6" stroke="#494642" stroke-width="1.0"/><circle cx="105.00" cy="308.75" r="1.55" fill="#b6ac77" stroke="#2e2a14" stroke-width="1.0"/><circle cx="106.90" cy="308.75" r="1.55" fill="#d4b382" stroke="#3a2d19" stroke-width="1.0"/><circle cx="112.50" cy="308.75" r="1.55" fill="#d3de8e" stroke="#3a3f1d" stroke-width="1.0"/><circle cx="116.25" cy="308.75" r="1.55" fill="#80b9b9" stroke="#182f2f" stroke-width="1.0"/><circle cx="119.00" cy="308.75" r="1.55" fill="#a682c8" stroke="#281935" stroke-width="1.0"/><circle cx="85.25" cy="315.00" r="1.55" fill="#78d2d2" stroke="#143a3a" stroke-width="1.0"/><circle cx="91.90" cy="315.00" r="1.55" fill="#f6f1e6" stroke="#494642" stroke-width="1.0"/><circle cx="111.50" cy="315.00" r="1.55" fill="#85be78" stroke="#1a3214" stroke-width="1.0"/><circle cx="124.40" cy="315.00" r="1.55" fill="#85be78" stroke="#1a3214" stroke-width="1.0"/><circle cx="71.00" cy="319.75" r="1.55" fill="#a682c8" stroke="#281935" stroke-width="1.0"/><circle cx="111.90" cy="321.60" r="1.55" fill="#78d2d2" stroke="#143a3a" stroke-width="1.0"/><circle cx="105.00" cy="324.40" r="1.55" fill="#b6ac77" stroke="#2e2a14" stroke-width="1.0"/><circle cx="68.10" cy="326.25" r="1.55" fill="#a682c8" stroke="#281935" stroke-width="1.0"/><circle cx="75.60" cy="326.25" r="1.55" fill="#6666cc" stroke="#0d0d37" stroke-width="1.0"/><circle cx="77.80" cy="326.25" r="1.55" fill="#a682c8" stroke="#281935" stroke-width="1.0"/><circle cx="80.00" cy="326.25" r="1.55" fill="#a682c8" stroke="#281935" stroke-width="1.0"/><circle cx="85.00" cy="326.25" r="1.55" fill="#a682c8" stroke="#281935" stroke-width="1.0"/><circle cx="86.50" cy="326.25" r="1.55" fill="#6666cc" stroke="#0d0d37" stroke-width="1.0"/><circle cx="88.10" cy="326.25" r="1.55" fill="#699b6d" stroke="#0e2310" stroke-width="1.0"/><circle cx="90.00" cy="326.25" r="1.55" fill="#b6ac77" stroke="#2e2a14" stroke-width="1.0"/><circle cx="91.90" cy="326.25" r="1.55" fill="#85be78" stroke="#1a3214" stroke-width="1.0"/><circle cx="94.00" cy="326.25" r="1.55" fill="#e1d68a" stroke="#403b1c" stroke-width="1.0"/><circle cx="96.25" cy="326.25" r="1.55" fill="#b6ac77" stroke="#2e2a14" stroke-width="1.0"/><circle cx="99.40" cy="326.25" r="1.55" fill="#e1d68a" stroke="#403b1c" stroke-width="1.0"/><circle cx="102.50" cy="326.25" r="1.55" fill="#f6f1e6" stroke="#494642" stroke-width="1.0"/><circle cx="105.00" cy="326.25" r="1.55" fill="#b6ac77" stroke="#2e2a14" stroke-width="1.0"/><circle cx="106.80" cy="326.25" r="1.55" fill="#80b9b9" stroke="#182f2f" stroke-width="1.0"/><circle cx="108.75" cy="326.25" r="1.55" fill="#80b9b9" stroke="#182f2f" stroke-width="1.0"/><circle cx="110.90" cy="326.25" r="1.55" fill="#85be78" stroke="#1a3214" stroke-width="1.0"/><circle cx="112.50" cy="326.25" r="1.55" fill="#85be78" stroke="#1a3214" stroke-width="1.0"/><circle cx="113.80" cy="326.25" r="1.55" fill="#85be78" stroke="#1a3214" stroke-width="1.0"/><circle cx="116.25" cy="326.25" r="1.55" fill="#f6f1e6" stroke="#494642" stroke-width="1.0"/><circle cx="118.75" cy="326.25" r="1.55" fill="#a682c8" stroke="#281935" stroke-width="1.0"/><circle cx="120.60" cy="326.25" r="1.55" fill="#f6f1e6" stroke="#494642" stroke-width="1.0"/><circle cx="71.90" cy="332.75" r="1.55" fill="#a682c8" stroke="#281935" stroke-width="1.0"/><rect x="237.3" y="183.9" width="16.5" height="86.49999999999997" fill="#fff" fill-opacity="0.8" stroke="#ddd" stroke-width="0.5" rx="0.5"/><circle cx="241.9" cy="187.10" r="1.55" fill="#9f666d" stroke="#250d10" stroke-width="1.0"/><text class="s" x="247.30" y="188.20" font-size="3.6" fill="#555" stroke="#555" stroke-width="0.1">1</text><circle cx="241.9" cy="191.32" r="1.55" fill="#d79380" stroke="#3c2018" stroke-width="1.0"/><text class="s" x="247.30" y="192.42" font-size="3.6" fill="#555" stroke="#555" stroke-width="0.1">2a</text><circle cx="241.9" cy="195.54" r="1.55" fill="#f6f1e6" stroke="#494642" stroke-width="1.0"/><text class="s" x="247.30" y="196.64" font-size="3.6" fill="#555" stroke="#555" stroke-width="0.1">2b</text><circle cx="241.9" cy="199.76" r="1.55" fill="#d4b382" stroke="#3a2d19" stroke-width="1.0"/><text class="s" x="247.30" y="200.86" font-size="3.6" fill="#555" stroke="#555" stroke-width="0.1">2c</text><circle cx="241.9" cy="203.98" r="1.55" fill="#dfbc82" stroke="#3f3119" stroke-width="1.0"/><text class="s" x="247.30" y="205.08" font-size="3.6" fill="#555" stroke="#555" stroke-width="0.1">2d</text><circle cx="241.9" cy="208.20" r="1.55" fill="#ebe080" stroke="#444017" stroke-width="1.0"/><text class="s" x="247.30" y="209.30" font-size="3.6" fill="#555" stroke="#555" stroke-width="0.1">3a</text><circle cx="241.9" cy="212.42" r="1.55" fill="#e1d68a" stroke="#403b1c" stroke-width="1.0"/><text class="s" x="247.30" y="213.52" font-size="3.6" fill="#555" stroke="#555" stroke-width="0.1">3b</text><circle cx="241.9" cy="216.64" r="1.55" fill="#d3de8e" stroke="#3a3f1d" stroke-width="1.0"/><text class="s" x="247.30" y="217.74" font-size="3.6" fill="#555" stroke="#555" stroke-width="0.1">4a</text><circle cx="241.9" cy="220.86" r="1.55" fill="#699b6d" stroke="#0e2310" stroke-width="1.0"/><text class="s" x="247.30" y="221.96" font-size="3.6" fill="#555" stroke="#555" stroke-width="0.1">4b</text><circle cx="241.9" cy="225.08" r="1.55" fill="#85be78" stroke="#1a3214" stroke-width="1.0"/><text class="s" x="247.30" y="226.18" font-size="3.6" fill="#555" stroke="#555" stroke-width="0.1">4c</text><circle cx="241.9" cy="229.30" r="1.55" fill="#78d2d2" stroke="#143a3a" stroke-width="1.0"/><text class="s" x="247.30" y="230.40" font-size="3.6" fill="#555" stroke="#555" stroke-width="0.1">5a</text><circle cx="241.9" cy="233.52" r="1.55" fill="#eef6f6" stroke="#464949" stroke-width="1.0"/><text class="s" x="247.30" y="234.62" font-size="3.6" fill="#555" stroke="#555" stroke-width="0.1">5b</text><circle cx="241.9" cy="237.74" r="1.55" fill="#80b9b9" stroke="#182f2f" stroke-width="1.0"/><text class="s" x="247.30" y="238.84" font-size="3.6" fill="#555" stroke="#555" stroke-width="0.1">5c</text><circle cx="241.9" cy="241.96" r="1.55" fill="#dfeaf6" stroke="#3f4449" stroke-width="1.0"/><text class="s" x="247.30" y="243.06" font-size="3.6" fill="#555" stroke="#555" stroke-width="0.1">5d</text><circle cx="241.9" cy="246.18" r="1.55" fill="#6666cc" stroke="#0d0d37" stroke-width="1.0"/><text class="s" x="247.30" y="247.28" font-size="3.6" fill="#555" stroke="#555" stroke-width="0.1">6a</text><circle cx="241.9" cy="250.40" r="1.55" fill="#c8d3ea" stroke="#353a44" stroke-width="1.0"/><text class="s" x="247.30" y="251.50" font-size="3.6" fill="#555" stroke="#555" stroke-width="0.1">6b</text><circle cx="241.9" cy="254.62" r="1.55" fill="#a682c8" stroke="#281935" stroke-width="1.0"/><text class="s" x="247.30" y="255.72" font-size="3.6" fill="#555" stroke="#555" stroke-width="0.1">7a</text><circle cx="241.9" cy="258.84" r="1.55" fill="#ead3ea" stroke="#443a44" stroke-width="1.0"/><text class="s" x="247.30" y="259.94" font-size="3.6" fill="#555" stroke="#555" stroke-width="0.1">7b</text><circle cx="241.9" cy="263.06" r="1.55" fill="#d378d3" stroke="#3a143a" stroke-width="1.0"/><text class="s" x="247.30" y="264.16" font-size="3.6" fill="#555" stroke="#555" stroke-width="0.1">7c</text><circle cx="241.9" cy="267.28" r="1.55" fill="#a3996c" stroke="#26220f" stroke-width="1.0"/><text class="s" x="247.30" y="268.38" font-size="3.6" fill="#555" stroke="#555" stroke-width="0.1">ND</text><rect x="47.1" y="183.4" width="207.20000000000002" height="153.99999999999997" fill="none" stroke="#2a2a2a" stroke-width="0.95"/><line x1="47.10" y1="337.4" x2="47.10" y2="339.59999999999997" stroke="#333" stroke-width="0.6"/><line x1="44.9" y1="337.40" x2="47.1" y2="337.40" stroke="#333" stroke-width="0.6"/><line x1="56.01" y1="337.4" x2="56.01" y2="338.59999999999997" stroke="#555" stroke-width="0.45"/><line x1="45.9" y1="330.78" x2="47.1" y2="330.78" stroke="#555" stroke-width="0.45"/><line x1="61.22" y1="337.4" x2="61.22" y2="338.59999999999997" stroke="#555" stroke-width="0.45"/><line x1="45.9" y1="326.90" x2="47.1" y2="326.90" stroke="#555" stroke-width="0.45"/><line x1="64.92" y1="337.4" x2="64.92" y2="338.59999999999997" stroke="#555" stroke-width="0.45"/><line x1="45.9" y1="324.15" x2="47.1" y2="324.15" stroke="#555" stroke-width="0.45"/><line x1="67.79" y1="337.4" x2="67.79" y2="338.59999999999997" stroke="#555" stroke-width="0.45"/><line x1="45.9" y1="322.02" x2="47.1" y2="322.02" stroke="#555" stroke-width="0.45"/><line x1="70.13" y1="337.4" x2="70.13" y2="338.59999999999997" stroke="#555" stroke-width="0.45"/><line x1="45.9" y1="320.28" x2="47.1" y2="320.28" stroke="#555" stroke-width="0.45"/><line x1="72.11" y1="337.4" x2="72.11" y2="338.59999999999997" stroke="#555" stroke-width="0.45"/><line x1="45.9" y1="318.81" x2="47.1" y2="318.81" stroke="#555" stroke-width="0.45"/><line x1="73.83" y1="337.4" x2="73.83" y2="338.59999999999997" stroke="#555" stroke-width="0.45"/><line x1="45.9" y1="317.53" x2="47.1" y2="317.53" stroke="#555" stroke-width="0.45"/><line x1="75.35" y1="337.4" x2="75.35" y2="338.59999999999997" stroke="#555" stroke-width="0.45"/><line x1="45.9" y1="316.41" x2="47.1" y2="316.41" stroke="#555" stroke-width="0.45"/><text class="t" x="47.10" y="345.70" font-size="6.8" fill="#111" stroke="#111" stroke-width="0.18" text-anchor="middle">10<tspan font-size="4.6" dy="-2.8">−1</tspan></text><text class="t" x="43.10" y="339.40" font-size="6.8" fill="#111" stroke="#111" stroke-width="0.18" text-anchor="end">10<tspan font-size="4.6" dy="-2.8">−1</tspan></text><line x1="76.70" y1="337.4" x2="76.70" y2="339.59999999999997" stroke="#333" stroke-width="0.6"/><line x1="44.9" y1="315.40" x2="47.1" y2="315.40" stroke="#333" stroke-width="0.6"/><line x1="85.61" y1="337.4" x2="85.61" y2="338.59999999999997" stroke="#555" stroke-width="0.45"/><line x1="45.9" y1="308.78" x2="47.1" y2="308.78" stroke="#555" stroke-width="0.45"/><line x1="90.82" y1="337.4" x2="90.82" y2="338.59999999999997" stroke="#555" stroke-width="0.45"/><line x1="45.9" y1="304.90" x2="47.1" y2="304.90" stroke="#555" stroke-width="0.45"/><line x1="94.52" y1="337.4" x2="94.52" y2="338.59999999999997" stroke="#555" stroke-width="0.45"/><line x1="45.9" y1="302.15" x2="47.1" y2="302.15" stroke="#555" stroke-width="0.45"/><line x1="97.39" y1="337.4" x2="97.39" y2="338.59999999999997" stroke="#555" stroke-width="0.45"/><line x1="45.9" y1="300.02" x2="47.1" y2="300.02" stroke="#555" stroke-width="0.45"/><line x1="99.73" y1="337.4" x2="99.73" y2="338.59999999999997" stroke="#555" stroke-width="0.45"/><line x1="45.9" y1="298.28" x2="47.1" y2="298.28" stroke="#555" stroke-width="0.45"/><line x1="101.71" y1="337.4" x2="101.71" y2="338.59999999999997" stroke="#555" stroke-width="0.45"/><line x1="45.9" y1="296.81" x2="47.1" y2="296.81" stroke="#555" stroke-width="0.45"/><line x1="103.43" y1="337.4" x2="103.43" y2="338.59999999999997" stroke="#555" stroke-width="0.45"/><line x1="45.9" y1="295.53" x2="47.1" y2="295.53" stroke="#555" stroke-width="0.45"/><line x1="104.95" y1="337.4" x2="104.95" y2="338.59999999999997" stroke="#555" stroke-width="0.45"/><line x1="45.9" y1="294.41" x2="47.1" y2="294.41" stroke="#555" stroke-width="0.45"/><text class="t" x="76.70" y="345.70" font-size="6.8" fill="#111" stroke="#111" stroke-width="0.18" text-anchor="middle">10<tspan font-size="4.6" dy="-2.8">0</tspan></text><text class="t" x="43.10" y="317.40" font-size="6.8" fill="#111" stroke="#111" stroke-width="0.18" text-anchor="end">10<tspan font-size="4.6" dy="-2.8">0</tspan></text><line x1="106.30" y1="337.4" x2="106.30" y2="339.59999999999997" stroke="#333" stroke-width="0.6"/><line x1="44.9" y1="293.40" x2="47.1" y2="293.40" stroke="#333" stroke-width="0.6"/><line x1="115.21" y1="337.4" x2="115.21" y2="338.59999999999997" stroke="#555" stroke-width="0.45"/><line x1="45.9" y1="286.78" x2="47.1" y2="286.78" stroke="#555" stroke-width="0.45"/><line x1="120.42" y1="337.4" x2="120.42" y2="338.59999999999997" stroke="#555" stroke-width="0.45"/><line x1="45.9" y1="282.90" x2="47.1" y2="282.90" stroke="#555" stroke-width="0.45"/><line x1="124.12" y1="337.4" x2="124.12" y2="338.59999999999997" stroke="#555" stroke-width="0.45"/><line x1="45.9" y1="280.15" x2="47.1" y2="280.15" stroke="#555" stroke-width="0.45"/><line x1="126.99" y1="337.4" x2="126.99" y2="338.59999999999997" stroke="#555" stroke-width="0.45"/><line x1="45.9" y1="278.02" x2="47.1" y2="278.02" stroke="#555" stroke-width="0.45"/><line x1="129.33" y1="337.4" x2="129.33" y2="338.59999999999997" stroke="#555" stroke-width="0.45"/><line x1="45.9" y1="276.28" x2="47.1" y2="276.28" stroke="#555" stroke-width="0.45"/><line x1="131.31" y1="337.4" x2="131.31" y2="338.59999999999997" stroke="#555" stroke-width="0.45"/><line x1="45.9" y1="274.81" x2="47.1" y2="274.81" stroke="#555" stroke-width="0.45"/><line x1="133.03" y1="337.4" x2="133.03" y2="338.59999999999997" stroke="#555" stroke-width="0.45"/><line x1="45.9" y1="273.53" x2="47.1" y2="273.53" stroke="#555" stroke-width="0.45"/><line x1="134.55" y1="337.4" x2="134.55" y2="338.59999999999997" stroke="#555" stroke-width="0.45"/><line x1="45.9" y1="272.41" x2="47.1" y2="272.41" stroke="#555" stroke-width="0.45"/><text class="t" x="106.30" y="345.70" font-size="6.8" fill="#111" stroke="#111" stroke-width="0.18" text-anchor="middle">10<tspan font-size="4.6" dy="-2.8">1</tspan></text><text class="t" x="43.10" y="295.40" font-size="6.8" fill="#111" stroke="#111" stroke-width="0.18" text-anchor="end">10<tspan font-size="4.6" dy="-2.8">1</tspan></text><line x1="135.90" y1="337.4" x2="135.90" y2="339.59999999999997" stroke="#333" stroke-width="0.6"/><line x1="44.9" y1="271.40" x2="47.1" y2="271.40" stroke="#333" stroke-width="0.6"/><line x1="144.81" y1="337.4" x2="144.81" y2="338.59999999999997" stroke="#555" stroke-width="0.45"/><line x1="45.9" y1="264.78" x2="47.1" y2="264.78" stroke="#555" stroke-width="0.45"/><line x1="150.02" y1="337.4" x2="150.02" y2="338.59999999999997" stroke="#555" stroke-width="0.45"/><line x1="45.9" y1="260.90" x2="47.1" y2="260.90" stroke="#555" stroke-width="0.45"/><line x1="153.72" y1="337.4" x2="153.72" y2="338.59999999999997" stroke="#555" stroke-width="0.45"/><line x1="45.9" y1="258.15" x2="47.1" y2="258.15" stroke="#555" stroke-width="0.45"/><line x1="156.59" y1="337.4" x2="156.59" y2="338.59999999999997" stroke="#555" stroke-width="0.45"/><line x1="45.9" y1="256.02" x2="47.1" y2="256.02" stroke="#555" stroke-width="0.45"/><line x1="158.93" y1="337.4" x2="158.93" y2="338.59999999999997" stroke="#555" stroke-width="0.45"/><line x1="45.9" y1="254.28" x2="47.1" y2="254.28" stroke="#555" stroke-width="0.45"/><line x1="160.91" y1="337.4" x2="160.91" y2="338.59999999999997" stroke="#555" stroke-width="0.45"/><line x1="45.9" y1="252.81" x2="47.1" y2="252.81" stroke="#555" stroke-width="0.45"/><line x1="162.63" y1="337.4" x2="162.63" y2="338.59999999999997" stroke="#555" stroke-width="0.45"/><line x1="45.9" y1="251.53" x2="47.1" y2="251.53" stroke="#555" stroke-width="0.45"/><line x1="164.15" y1="337.4" x2="164.15" y2="338.59999999999997" stroke="#555" stroke-width="0.45"/><line x1="45.9" y1="250.41" x2="47.1" y2="250.41" stroke="#555" stroke-width="0.45"/><text class="t" x="135.90" y="345.70" font-size="6.8" fill="#111" stroke="#111" stroke-width="0.18" text-anchor="middle">10<tspan font-size="4.6" dy="-2.8">2</tspan></text><text class="t" x="43.10" y="273.40" font-size="6.8" fill="#111" stroke="#111" stroke-width="0.18" text-anchor="end">10<tspan font-size="4.6" dy="-2.8">2</tspan></text><line x1="165.50" y1="337.4" x2="165.50" y2="339.59999999999997" stroke="#333" stroke-width="0.6"/><line x1="44.9" y1="249.40" x2="47.1" y2="249.40" stroke="#333" stroke-width="0.6"/><line x1="174.41" y1="337.4" x2="174.41" y2="338.59999999999997" stroke="#555" stroke-width="0.45"/><line x1="45.9" y1="242.78" x2="47.1" y2="242.78" stroke="#555" stroke-width="0.45"/><line x1="179.62" y1="337.4" x2="179.62" y2="338.59999999999997" stroke="#555" stroke-width="0.45"/><line x1="45.9" y1="238.90" x2="47.1" y2="238.90" stroke="#555" stroke-width="0.45"/><line x1="183.32" y1="337.4" x2="183.32" y2="338.59999999999997" stroke="#555" stroke-width="0.45"/><line x1="45.9" y1="236.15" x2="47.1" y2="236.15" stroke="#555" stroke-width="0.45"/><line x1="186.19" y1="337.4" x2="186.19" y2="338.59999999999997" stroke="#555" stroke-width="0.45"/><line x1="45.9" y1="234.02" x2="47.1" y2="234.02" stroke="#555" stroke-width="0.45"/><line x1="188.53" y1="337.4" x2="188.53" y2="338.59999999999997" stroke="#555" stroke-width="0.45"/><line x1="45.9" y1="232.28" x2="47.1" y2="232.28" stroke="#555" stroke-width="0.45"/><line x1="190.51" y1="337.4" x2="190.51" y2="338.59999999999997" stroke="#555" stroke-width="0.45"/><line x1="45.9" y1="230.81" x2="47.1" y2="230.81" stroke="#555" stroke-width="0.45"/><line x1="192.23" y1="337.4" x2="192.23" y2="338.59999999999997" stroke="#555" stroke-width="0.45"/><line x1="45.9" y1="229.53" x2="47.1" y2="229.53" stroke="#555" stroke-width="0.45"/><line x1="193.75" y1="337.4" x2="193.75" y2="338.59999999999997" stroke="#555" stroke-width="0.45"/><line x1="45.9" y1="228.41" x2="47.1" y2="228.41" stroke="#555" stroke-width="0.45"/><text class="t" x="165.50" y="345.70" font-size="6.8" fill="#111" stroke="#111" stroke-width="0.18" text-anchor="middle">10<tspan font-size="4.6" dy="-2.8">3</tspan></text><text class="t" x="43.10" y="251.40" font-size="6.8" fill="#111" stroke="#111" stroke-width="0.18" text-anchor="end">10<tspan font-size="4.6" dy="-2.8">3</tspan></text><line x1="195.10" y1="337.4" x2="195.10" y2="339.59999999999997" stroke="#333" stroke-width="0.6"/><line x1="44.9" y1="227.40" x2="47.1" y2="227.40" stroke="#333" stroke-width="0.6"/><line x1="204.01" y1="337.4" x2="204.01" y2="338.59999999999997" stroke="#555" stroke-width="0.45"/><line x1="45.9" y1="220.78" x2="47.1" y2="220.78" stroke="#555" stroke-width="0.45"/><line x1="209.22" y1="337.4" x2="209.22" y2="338.59999999999997" stroke="#555" stroke-width="0.45"/><line x1="45.9" y1="216.90" x2="47.1" y2="216.90" stroke="#555" stroke-width="0.45"/><line x1="212.92" y1="337.4" x2="212.92" y2="338.59999999999997" stroke="#555" stroke-width="0.45"/><line x1="45.9" y1="214.15" x2="47.1" y2="214.15" stroke="#555" stroke-width="0.45"/><line x1="215.79" y1="337.4" x2="215.79" y2="338.59999999999997" stroke="#555" stroke-width="0.45"/><line x1="45.9" y1="212.02" x2="47.1" y2="212.02" stroke="#555" stroke-width="0.45"/><line x1="218.13" y1="337.4" x2="218.13" y2="338.59999999999997" stroke="#555" stroke-width="0.45"/><line x1="45.9" y1="210.28" x2="47.1" y2="210.28" stroke="#555" stroke-width="0.45"/><line x1="220.11" y1="337.4" x2="220.11" y2="338.59999999999997" stroke="#555" stroke-width="0.45"/><line x1="45.9" y1="208.81" x2="47.1" y2="208.81" stroke="#555" stroke-width="0.45"/><line x1="221.83" y1="337.4" x2="221.83" y2="338.59999999999997" stroke="#555" stroke-width="0.45"/><line x1="45.9" y1="207.53" x2="47.1" y2="207.53" stroke="#555" stroke-width="0.45"/><line x1="223.35" y1="337.4" x2="223.35" y2="338.59999999999997" stroke="#555" stroke-width="0.45"/><line x1="45.9" y1="206.41" x2="47.1" y2="206.41" stroke="#555" stroke-width="0.45"/><text class="t" x="195.10" y="345.70" font-size="6.8" fill="#111" stroke="#111" stroke-width="0.18" text-anchor="middle">10<tspan font-size="4.6" dy="-2.8">4</tspan></text><text class="t" x="43.10" y="229.40" font-size="6.8" fill="#111" stroke="#111" stroke-width="0.18" text-anchor="end">10<tspan font-size="4.6" dy="-2.8">4</tspan></text><line x1="224.70" y1="337.4" x2="224.70" y2="339.59999999999997" stroke="#333" stroke-width="0.6"/><line x1="44.9" y1="205.40" x2="47.1" y2="205.40" stroke="#333" stroke-width="0.6"/><line x1="233.61" y1="337.4" x2="233.61" y2="338.59999999999997" stroke="#555" stroke-width="0.45"/><line x1="45.9" y1="198.78" x2="47.1" y2="198.78" stroke="#555" stroke-width="0.45"/><line x1="238.82" y1="337.4" x2="238.82" y2="338.59999999999997" stroke="#555" stroke-width="0.45"/><line x1="45.9" y1="194.90" x2="47.1" y2="194.90" stroke="#555" stroke-width="0.45"/><line x1="242.52" y1="337.4" x2="242.52" y2="338.59999999999997" stroke="#555" stroke-width="0.45"/><line x1="45.9" y1="192.15" x2="47.1" y2="192.15" stroke="#555" stroke-width="0.45"/><line x1="245.39" y1="337.4" x2="245.39" y2="338.59999999999997" stroke="#555" stroke-width="0.45"/><line x1="45.9" y1="190.02" x2="47.1" y2="190.02" stroke="#555" stroke-width="0.45"/><line x1="247.73" y1="337.4" x2="247.73" y2="338.59999999999997" stroke="#555" stroke-width="0.45"/><line x1="45.9" y1="188.28" x2="47.1" y2="188.28" stroke="#555" stroke-width="0.45"/><line x1="249.71" y1="337.4" x2="249.71" y2="338.59999999999997" stroke="#555" stroke-width="0.45"/><line x1="45.9" y1="186.81" x2="47.1" y2="186.81" stroke="#555" stroke-width="0.45"/><line x1="251.43" y1="337.4" x2="251.43" y2="338.59999999999997" stroke="#555" stroke-width="0.45"/><line x1="45.9" y1="185.53" x2="47.1" y2="185.53" stroke="#555" stroke-width="0.45"/><line x1="252.95" y1="337.4" x2="252.95" y2="338.59999999999997" stroke="#555" stroke-width="0.45"/><line x1="45.9" y1="184.41" x2="47.1" y2="184.41" stroke="#555" stroke-width="0.45"/><text class="t" x="224.70" y="345.70" font-size="6.8" fill="#111" stroke="#111" stroke-width="0.18" text-anchor="middle">10<tspan font-size="4.6" dy="-2.8">5</tspan></text><text class="t" x="43.10" y="207.40" font-size="6.8" fill="#111" stroke="#111" stroke-width="0.18" text-anchor="end">10<tspan font-size="4.6" dy="-2.8">5</tspan></text><line x1="254.30" y1="337.4" x2="254.30" y2="339.59999999999997" stroke="#333" stroke-width="0.6"/><line x1="44.9" y1="183.40" x2="47.1" y2="183.40" stroke="#333" stroke-width="0.6"/><text class="t" x="254.30" y="345.70" font-size="6.8" fill="#111" stroke="#111" stroke-width="0.18" text-anchor="middle">10<tspan font-size="4.6" dy="-2.8">6</tspan></text><text class="t" x="43.10" y="185.40" font-size="6.8" fill="#111" stroke="#111" stroke-width="0.18" text-anchor="end">10<tspan font-size="4.6" dy="-2.8">6</tspan></text><text class="s" x="2.3" y="191.0" font-size="11.8" font-weight="bold" fill="#111">(C)</text><text class="s" x="51.1" y="192.3" font-size="7.8" font-weight="bold" fill="#111">r = 0.8</text><text class="s" x="51.1" y="201.5" font-size="7.8" font-weight="bold" fill="#111">p-value = 7.2e-56</text><text class="s" x="79.0" y="353.8" font-size="6.0" fill="#1a1a1a" stroke="#1a1a1a" stroke-width="0.14" textLength="142.5" lengthAdjust="spacingAndGlyphs"><tspan font-style="italic">IC</tspan><tspan font-size="4.20" dy="1.6">50</tspan><tspan dy="-1.6"> (ng/mL),Pseudovirus neutralization (B.1.351)</tspan></text><text class="s" transform="translate(25.9,336.5) rotate(-90)" x="0" y="0" font-size="6.0" fill="#1a1a1a" stroke="#1a1a1a" stroke-width="0.14" textLength="151.5" lengthAdjust="spacingAndGlyphs"><tspan font-style="italic">IC</tspan><tspan font-size="4.20" dy="1.6">50</tspan><tspan dy="-1.6"> (ng/mL),Authentic virus neutralization (B.1.351)</tspan></text></g>
</svg></body></html>
